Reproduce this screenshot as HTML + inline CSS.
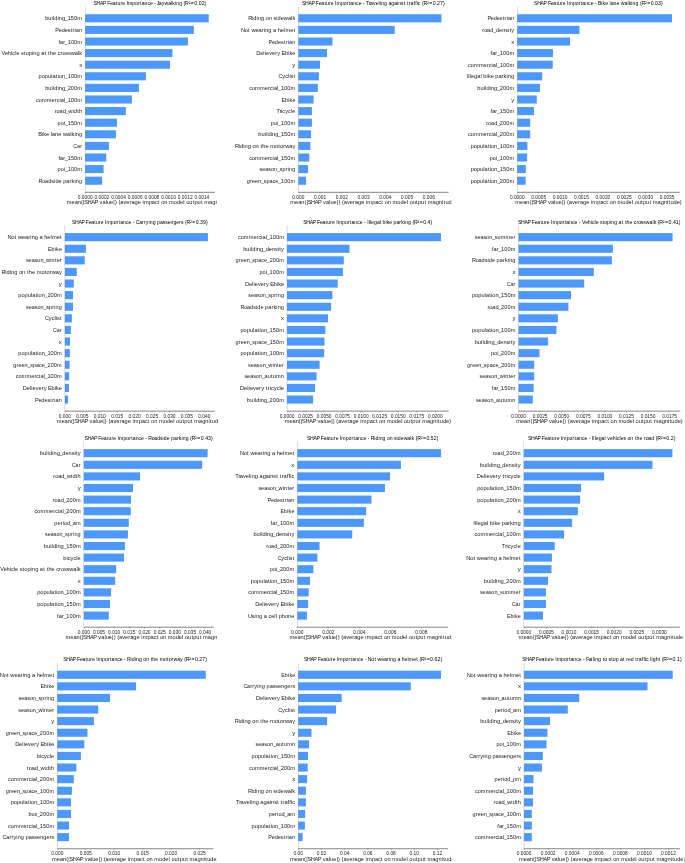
<!DOCTYPE html>
<html><head><meta charset="utf-8"><style>
html,body{margin:0;padding:0;background:#fff;overflow:hidden;}
svg{display:block;font-family:"Liberation Sans",sans-serif;}
text{-webkit-font-smoothing:antialiased;}
</style></head><body>
<svg width="685" height="863" viewBox="0 0 685 863" style="will-change:transform">

<clipPath id="c0"><rect x="0" y="0" width="217.0" height="863"/></clipPath>
<g clip-path="url(#c0)">
<rect x="85.20" y="14.24" width="123.50" height="8.12" fill="#4c98ff"/>
<text transform="translate(45.16 20.30) scale(1.0325 1)" x="0.01 3.08 6.20 7.55 8.84 11.97 13.26 16.33 19.08 21.83 24.91 27.99 31.13" font-size="5.500" fill="#1a1a1a">building_150m</text>
<rect x="85.20" y="25.84" width="108.70" height="8.12" fill="#4c98ff"/>
<text transform="translate(55.69 31.90) scale(1.0043 1)" x="-0.33 3.00 5.94 9.05 12.03 14.92 16.77 18.79 20.08 23.19" font-size="5.500" fill="#1a1a1a">Pedestrian</text>
<rect x="85.20" y="37.44" width="102.70" height="8.12" fill="#4c98ff"/>
<text transform="translate(58.31 43.50) scale(1.0240 1)" x="0.10 1.69 4.80 6.41 9.18 12.29 15.40 18.57" font-size="5.500" fill="#1a1a1a">far_100m</text>
<rect x="85.20" y="49.04" width="87.20" height="8.12" fill="#4c98ff"/>
<text transform="translate(1.70 55.10) scale(1.0313 1)" x="-0.18 3.28 5.93 9.06 10.30 13.07 14.32 17.34 18.77 21.59 23.26 26.28 29.41 30.70 33.78 36.85 38.34 41.54 43.27 44.99 46.71 49.74 52.76 54.26 57.04 58.91 61.70 64.23 66.87 70.79 73.87 75.18" font-size="5.500" fill="#1a1a1a">Vehicle stoping at the crosswalk</text>
<rect x="85.20" y="60.64" width="84.80" height="8.12" fill="#4c98ff"/>
<text transform="translate(79.14 66.70) scale(1.0760 1)" x="0.00" font-size="5.500" fill="#1a1a1a">x</text>
<rect x="85.20" y="72.24" width="60.70" height="8.12" fill="#4c98ff"/>
<text transform="translate(38.58 78.30) scale(1.0313 1)" x="0.01 3.03 6.05 9.13 12.26 13.50 16.70 18.48 19.71 22.73 25.48 28.24 31.32 34.41 37.55" font-size="5.500" fill="#1a1a1a">population_100m</text>
<rect x="85.20" y="83.84" width="53.70" height="8.12" fill="#4c98ff"/>
<text transform="translate(45.16 89.90) scale(1.0325 1)" x="0.01 3.08 6.20 7.55 8.84 11.97 13.26 16.33 19.08 21.83 24.91 27.99 31.13" font-size="5.500" fill="#1a1a1a">building_200m</text>
<rect x="85.20" y="95.44" width="46.70" height="8.12" fill="#4c98ff"/>
<text transform="translate(36.02 101.50) scale(1.0255 1)" x="-0.03 2.64 5.75 10.50 15.13 18.25 20.13 22.81 24.06 27.15 28.13 30.90 34.00 37.10 40.27" font-size="5.500" fill="#1a1a1a">commercial_100m</text>
<rect x="85.20" y="107.04" width="40.60" height="8.12" fill="#4c98ff"/>
<text transform="translate(54.58 113.10) scale(1.0230 1)" x="0.09 1.98 4.86 7.91 10.68 13.45 17.50 18.81 22.09 23.83" font-size="5.500" fill="#1a1a1a">road_width</text>
<rect x="85.20" y="118.64" width="31.80" height="8.12" fill="#4c98ff"/>
<text transform="translate(57.56 124.70) scale(1.0157 1)" x="0.03 3.10 6.21 7.21 10.00 13.13 16.27 19.47" font-size="5.500" fill="#1a1a1a">poi_150m</text>
<rect x="85.20" y="130.24" width="30.70" height="8.12" fill="#4c98ff"/>
<text transform="translate(38.44 136.30) scale(1.0274 1)" x="-0.16 3.40 4.73 7.48 10.34 11.94 13.19 16.22 19.26 22.30 23.84 27.78 30.87 32.19 35.04 36.34 39.42" font-size="5.500" fill="#1a1a1a">Bike lane walking</text>
<rect x="85.20" y="141.84" width="23.70" height="8.12" fill="#4c98ff"/>
<text transform="translate(73.49 147.90) scale(0.9716 1)" x="-0.19 3.64 6.89" font-size="5.500" fill="#1a1a1a">Car</text>
<rect x="85.20" y="153.44" width="21.10" height="8.12" fill="#4c98ff"/>
<text transform="translate(58.31 159.50) scale(1.0240 1)" x="0.10 1.69 4.80 6.41 9.18 12.29 15.40 18.57" font-size="5.500" fill="#1a1a1a">far_150m</text>
<rect x="85.20" y="165.04" width="18.40" height="8.12" fill="#4c98ff"/>
<text transform="translate(57.56 171.10) scale(1.0157 1)" x="0.03 3.10 6.21 7.21 10.00 13.13 16.27 19.47" font-size="5.500" fill="#1a1a1a">poi_100m</text>
<rect x="85.20" y="176.64" width="16.90" height="8.12" fill="#4c98ff"/>
<text transform="translate(38.80 182.70) scale(1.0116 1)" x="-0.27 3.42 6.22 9.30 12.32 15.05 16.39 19.48 22.55 24.14 27.22 30.37 32.36 35.24 36.57 39.71" font-size="5.500" fill="#1a1a1a">Roadside parking</text>
<line x1="85.20" y1="6.70" x2="85.20" y2="192.30" stroke="#333" stroke-width="0.35" opacity="0.6"/>
<line x1="85.20" y1="192.30" x2="214.88" y2="192.30" stroke="#666" stroke-width="0.8"/>
<line x1="85.20" y1="192.30" x2="85.20" y2="193.60" stroke="#333" stroke-width="0.35"/>
<text transform="translate(77.80 198.65) scale(1.0692 1)" x="-0.00 2.52 3.78 6.29 8.81 11.33" font-size="4.527" fill="#1a1a1a">0.0000</text>
<line x1="101.87" y1="192.30" x2="101.87" y2="193.60" stroke="#333" stroke-width="0.35"/>
<text transform="translate(94.47 198.65) scale(1.0692 1)" x="-0.00 2.52 3.78 6.29 8.81 11.33" font-size="4.527" fill="#1a1a1a">0.0002</text>
<line x1="118.54" y1="192.30" x2="118.54" y2="193.60" stroke="#333" stroke-width="0.35"/>
<text transform="translate(111.14 198.65) scale(1.0692 1)" x="-0.00 2.52 3.78 6.29 8.81 11.33" font-size="4.527" fill="#1a1a1a">0.0004</text>
<line x1="135.21" y1="192.30" x2="135.21" y2="193.60" stroke="#333" stroke-width="0.35"/>
<text transform="translate(127.81 198.65) scale(1.0692 1)" x="-0.00 2.52 3.78 6.29 8.81 11.33" font-size="4.527" fill="#1a1a1a">0.0006</text>
<line x1="151.88" y1="192.30" x2="151.88" y2="193.60" stroke="#333" stroke-width="0.35"/>
<text transform="translate(144.48 198.65) scale(1.0692 1)" x="-0.00 2.52 3.78 6.29 8.81 11.33" font-size="4.527" fill="#1a1a1a">0.0008</text>
<line x1="168.55" y1="192.30" x2="168.55" y2="193.60" stroke="#333" stroke-width="0.35"/>
<text transform="translate(161.15 198.65) scale(1.0692 1)" x="-0.00 2.52 3.78 6.29 8.81 11.33" font-size="4.527" fill="#1a1a1a">0.0010</text>
<line x1="185.22" y1="192.30" x2="185.22" y2="193.60" stroke="#333" stroke-width="0.35"/>
<text transform="translate(177.82 198.65) scale(1.0692 1)" x="-0.00 2.52 3.78 6.29 8.81 11.33" font-size="4.527" fill="#1a1a1a">0.0012</text>
<line x1="201.89" y1="192.30" x2="201.89" y2="193.60" stroke="#333" stroke-width="0.35"/>
<text transform="translate(194.49 198.65) scale(1.0692 1)" x="-0.00 2.52 3.78 6.29 8.81 11.33" font-size="4.527" fill="#1a1a1a">0.0014</text>
<text transform="translate(93.71 4.70) scale(1.0077 1)" x="-0.24 2.80 6.22 9.17 12.27 13.47 16.33 18.90 21.90 23.55 26.51 28.29 31.03 32.44 33.93 38.32 41.17 44.08 46.06 47.66 50.51 53.37 55.89 58.73 60.15 61.84 62.68 64.62 67.52 70.18 73.88 76.77 78.03 80.69 81.93 84.84 87.73 89.21 90.70 94.20 96.40 99.85 102.74 104.22 107.13 110.05" font-size="5.077" fill="#000">SHAP Feature Importance - Jaywalking (R²=0.02)</text>
<text transform="translate(66.78 204.45) scale(1.0354 1)" x="0.06 4.66 7.62 10.63 13.72 15.68 16.90 20.10 23.72 26.83 30.12 31.71 34.46 37.53 38.81 41.83 44.94 46.49 48.36 49.91 51.72 54.78 57.54 60.64 62.49 65.51 68.52 71.54 73.13 74.48 79.12 82.14 85.10 87.98 89.70 91.18 94.18 97.25 98.84 103.43 106.44 109.46 112.53 113.82 115.30 118.30 121.55 123.26 126.32 129.56 131.28 132.87 137.46 140.48 143.54 146.66 148.12 149.83 152.90 155.92 158.96" font-size="5.500" fill="#1a1a1a">mean(|SHAP value|) (average impact on model output magnitude)</text>
</g>
<clipPath id="c1"><rect x="228" y="0" width="223.5" height="863"/></clipPath>
<g clip-path="url(#c1)">
<rect x="298.40" y="14.24" width="143.10" height="8.12" fill="#4c98ff"/>
<text transform="translate(248.44 20.30) scale(1.0218 1)" x="-0.29 3.47 4.78 7.93 9.25 12.35 15.45 16.96 20.00 23.10 24.54 27.26 28.57 31.63 34.68 38.64 41.73 43.07" font-size="5.500" fill="#1a1a1a">Riding on sidewalk</text>
<rect x="298.40" y="25.84" width="96.30" height="8.12" fill="#4c98ff"/>
<text transform="translate(241.15 31.90) scale(1.0419 1)" x="-0.19 3.53 6.70 8.41 9.91 13.80 16.75 19.82 21.78 23.05 26.09 29.14 30.61 33.61 35.13 38.12 41.18 42.51 47.08 50.27" font-size="5.500" fill="#1a1a1a">Not wearing a helmet</text>
<rect x="298.40" y="37.44" width="34.10" height="8.12" fill="#4c98ff"/>
<text transform="translate(268.89 43.50) scale(1.0043 1)" x="-0.33 3.00 5.94 9.05 12.03 14.92 16.77 18.79 20.08 23.19" font-size="5.500" fill="#1a1a1a">Pedestrian</text>
<rect x="298.40" y="49.04" width="28.60" height="8.12" fill="#4c98ff"/>
<text transform="translate(256.36 55.10) scale(1.0190 1)" x="-0.10 3.76 6.87 8.23 9.50 12.62 15.43 18.56 20.56 23.40 24.66 28.07 31.23 32.57 35.35" font-size="5.500" fill="#1a1a1a">Delievery Ebike</text>
<rect x="298.40" y="60.64" width="21.60" height="8.12" fill="#4c98ff"/>
<text transform="translate(292.34 66.70) scale(1.0760 1)" x="0.00" font-size="5.500" fill="#1a1a1a">y</text>
<rect x="298.40" y="72.24" width="20.50" height="8.12" fill="#4c98ff"/>
<text transform="translate(278.76 78.30) scale(1.0216 1)" x="-0.28 3.49 6.28 9.07 10.43 11.62 14.47" font-size="5.500" fill="#1a1a1a">Cyclist</text>
<rect x="298.40" y="83.84" width="19.40" height="8.12" fill="#4c98ff"/>
<text transform="translate(249.22 89.90) scale(1.0255 1)" x="-0.03 2.64 5.75 10.50 15.13 18.25 20.13 22.81 24.06 27.15 28.13 30.90 34.00 37.10 40.27" font-size="5.500" fill="#1a1a1a">commercial_100m</text>
<rect x="298.40" y="95.44" width="15.20" height="8.12" fill="#4c98ff"/>
<text transform="translate(281.78 101.50) scale(0.9824 1)" x="-0.23 3.30 6.54 7.96 10.84" font-size="5.500" fill="#1a1a1a">Ebike</text>
<rect x="298.40" y="107.04" width="13.50" height="8.12" fill="#4c98ff"/>
<text transform="translate(276.61 113.10) scale(0.9972 1)" x="-0.15 3.18 4.47 5.78 8.65 11.51 14.35 15.67" font-size="5.500" fill="#1a1a1a">Tricycle</text>
<rect x="298.40" y="118.64" width="13.50" height="8.12" fill="#4c98ff"/>
<text transform="translate(270.76 124.70) scale(1.0157 1)" x="0.03 3.10 6.21 7.21 10.00 13.13 16.27 19.47" font-size="5.500" fill="#1a1a1a">poi_100m</text>
<rect x="298.40" y="130.24" width="12.60" height="8.12" fill="#4c98ff"/>
<text transform="translate(258.36 136.30) scale(1.0325 1)" x="0.01 3.08 6.20 7.55 8.84 11.97 13.26 16.33 19.08 21.83 24.91 27.99 31.13" font-size="5.500" fill="#1a1a1a">building_150m</text>
<rect x="298.40" y="141.84" width="12.00" height="8.12" fill="#4c98ff"/>
<text transform="translate(235.21 147.90) scale(1.0400 1)" x="-0.32 3.40 4.67 7.79 9.06 12.11 15.16 16.63 19.63 22.68 24.39 26.09 29.09 32.10 33.68 38.25 41.43 43.08 46.15 48.04 51.93 54.98" font-size="5.500" fill="#1a1a1a">Riding on the motorway</text>
<rect x="298.40" y="153.44" width="10.90" height="8.12" fill="#4c98ff"/>
<text transform="translate(249.22 159.50) scale(1.0255 1)" x="-0.03 2.64 5.75 10.50 15.13 18.25 20.13 22.81 24.06 27.15 28.13 30.90 34.00 37.10 40.27" font-size="5.500" fill="#1a1a1a">commercial_150m</text>
<rect x="298.40" y="165.04" width="9.60" height="8.12" fill="#4c98ff"/>
<text transform="translate(259.66 171.10) scale(0.9964 1)" x="-0.07 2.63 5.71 8.71 11.40 14.52 17.37 20.08 22.83 26.07 28.10 29.47 32.65" font-size="5.500" fill="#1a1a1a">season_spring</text>
<rect x="298.40" y="176.64" width="7.60" height="8.12" fill="#4c98ff"/>
<text transform="translate(246.78 182.70) scale(0.9980 1)" x="0.06 3.29 5.25 8.22 11.35 14.19 16.90 19.65 22.77 25.84 28.60 31.39 34.24 37.43 40.62 43.89" font-size="5.500" fill="#1a1a1a">green_space_100m</text>
<line x1="298.40" y1="6.70" x2="298.40" y2="192.30" stroke="#333" stroke-width="0.35" opacity="0.6"/>
<line x1="298.40" y1="192.30" x2="448.65" y2="192.30" stroke="#666" stroke-width="0.8"/>
<line x1="298.40" y1="192.30" x2="298.40" y2="193.60" stroke="#333" stroke-width="0.35"/>
<text transform="translate(292.34 198.65) scale(1.0692 1)" x="-0.00 2.52 3.78 6.29 8.81" font-size="4.527" fill="#1a1a1a">0.000</text>
<line x1="320.15" y1="192.30" x2="320.15" y2="193.60" stroke="#333" stroke-width="0.35"/>
<text transform="translate(314.09 198.65) scale(1.0692 1)" x="-0.00 2.52 3.78 6.29 8.81" font-size="4.527" fill="#1a1a1a">0.001</text>
<line x1="341.90" y1="192.30" x2="341.90" y2="193.60" stroke="#333" stroke-width="0.35"/>
<text transform="translate(335.84 198.65) scale(1.0692 1)" x="-0.00 2.52 3.78 6.29 8.81" font-size="4.527" fill="#1a1a1a">0.002</text>
<line x1="363.65" y1="192.30" x2="363.65" y2="193.60" stroke="#333" stroke-width="0.35"/>
<text transform="translate(357.59 198.65) scale(1.0692 1)" x="-0.00 2.52 3.78 6.29 8.81" font-size="4.527" fill="#1a1a1a">0.003</text>
<line x1="385.40" y1="192.30" x2="385.40" y2="193.60" stroke="#333" stroke-width="0.35"/>
<text transform="translate(379.34 198.65) scale(1.0692 1)" x="-0.00 2.52 3.78 6.29 8.81" font-size="4.527" fill="#1a1a1a">0.004</text>
<line x1="407.15" y1="192.30" x2="407.15" y2="193.60" stroke="#333" stroke-width="0.35"/>
<text transform="translate(401.09 198.65) scale(1.0692 1)" x="-0.00 2.52 3.78 6.29 8.81" font-size="4.527" fill="#1a1a1a">0.005</text>
<line x1="428.90" y1="192.30" x2="428.90" y2="193.60" stroke="#333" stroke-width="0.35"/>
<text transform="translate(422.84 198.65) scale(1.0692 1)" x="-0.00 2.52 3.78 6.29 8.81" font-size="4.527" fill="#1a1a1a">0.006</text>
<text transform="translate(302.34 4.70) scale(1.0237 1)" x="-0.26 2.72 6.10 9.00 12.07 13.23 16.06 18.58 21.55 23.16 26.08 27.82 30.54 31.92 33.37 37.70 40.51 43.38 45.33 46.89 49.70 52.51 54.99 57.80 59.19 60.86 62.11 65.12 66.20 69.06 71.64 74.50 75.75 76.96 79.82 82.67 84.06 86.87 89.69 92.54 93.75 96.50 99.12 100.72 102.32 103.99 105.73 108.61 110.20 111.69 112.85 115.37 116.83 118.29 121.74 123.90 127.29 130.15 131.60 134.46 137.34" font-size="5.077" fill="#000">SHAP Feature Importance - Traveling against traffic (R²=0.27)</text>
<text transform="translate(290.27 204.45) scale(1.0354 1)" x="0.06 4.66 7.62 10.63 13.72 15.68 16.90 20.10 23.72 26.83 30.12 31.71 34.46 37.53 38.81 41.83 44.94 46.49 48.36 49.91 51.72 54.78 57.54 60.64 62.49 65.51 68.52 71.54 73.13 74.48 79.12 82.14 85.10 87.98 89.70 91.18 94.18 97.25 98.84 103.43 106.44 109.46 112.53 113.82 115.30 118.30 121.55 123.26 126.32 129.56 131.28 132.87 137.46 140.48 143.54 146.66 148.12 149.83 152.90 155.92 158.96" font-size="5.500" fill="#1a1a1a">mean(|SHAP value|) (average impact on model output magnitude)</text>
</g>
<clipPath id="c2"><rect x="457" y="0" width="228" height="863"/></clipPath>
<g clip-path="url(#c2)">
<rect x="517.30" y="14.24" width="154.70" height="8.12" fill="#4c98ff"/>
<text transform="translate(487.79 20.30) scale(1.0043 1)" x="-0.33 3.00 5.94 9.05 12.03 14.92 16.77 18.79 20.08 23.19" font-size="5.500" fill="#1a1a1a">Pedestrian</text>
<rect x="517.30" y="25.84" width="62.20" height="8.12" fill="#4c98ff"/>
<text transform="translate(482.12 31.90) scale(1.0185 1)" x="0.09 1.99 4.89 7.95 10.74 13.52 16.59 19.66 22.65 25.37 26.86 28.67" font-size="5.500" fill="#1a1a1a">road_density</text>
<rect x="517.30" y="37.44" width="52.70" height="8.12" fill="#4c98ff"/>
<text transform="translate(511.24 43.50) scale(1.0760 1)" x="0.00" font-size="5.500" fill="#1a1a1a">x</text>
<rect x="517.30" y="49.04" width="35.60" height="8.12" fill="#4c98ff"/>
<text transform="translate(490.41 55.10) scale(1.0240 1)" x="0.10 1.69 4.80 6.41 9.18 12.29 15.40 18.57" font-size="5.500" fill="#1a1a1a">far_100m</text>
<rect x="517.30" y="60.64" width="35.40" height="8.12" fill="#4c98ff"/>
<text transform="translate(468.12 66.70) scale(1.0255 1)" x="-0.03 2.64 5.75 10.50 15.13 18.25 20.13 22.81 24.06 27.15 28.13 30.90 34.00 37.10 40.27" font-size="5.500" fill="#1a1a1a">commercial_100m</text>
<rect x="517.30" y="72.24" width="24.90" height="8.12" fill="#4c98ff"/>
<text transform="translate(466.79 78.30) scale(1.0408 1)" x="-0.06 1.47 2.81 4.03 7.04 10.03 13.09 14.37 15.89 19.00 20.30 23.01 25.85 27.37 30.37 33.44 35.36 38.18 39.45 42.50" font-size="5.500" fill="#1a1a1a">Illegal bike parking</text>
<rect x="517.30" y="83.84" width="22.60" height="8.12" fill="#4c98ff"/>
<text transform="translate(477.26 89.90) scale(1.0325 1)" x="0.01 3.08 6.20 7.55 8.84 11.97 13.26 16.33 19.08 21.83 24.91 27.99 31.13" font-size="5.500" fill="#1a1a1a">building_200m</text>
<rect x="517.30" y="95.44" width="19.50" height="8.12" fill="#4c98ff"/>
<text transform="translate(511.24 101.50) scale(1.0760 1)" x="0.00" font-size="5.500" fill="#1a1a1a">y</text>
<rect x="517.30" y="107.04" width="16.70" height="8.12" fill="#4c98ff"/>
<text transform="translate(490.41 113.10) scale(1.0240 1)" x="0.10 1.69 4.80 6.41 9.18 12.29 15.40 18.57" font-size="5.500" fill="#1a1a1a">far_150m</text>
<rect x="517.30" y="118.64" width="12.90" height="8.12" fill="#4c98ff"/>
<text transform="translate(486.04 124.70) scale(1.0119 1)" x="0.10 2.01 4.93 8.01 10.82 13.62 16.77 19.91 23.13" font-size="5.500" fill="#1a1a1a">road_200m</text>
<rect x="517.30" y="130.24" width="12.90" height="8.12" fill="#4c98ff"/>
<text transform="translate(468.12 136.30) scale(1.0255 1)" x="-0.03 2.64 5.75 10.50 15.13 18.25 20.13 22.81 24.06 27.15 28.13 30.90 34.00 37.10 40.27" font-size="5.500" fill="#1a1a1a">commercial_200m</text>
<rect x="517.30" y="141.84" width="10.10" height="8.12" fill="#4c98ff"/>
<text transform="translate(470.68 147.90) scale(1.0313 1)" x="0.01 3.03 6.05 9.13 12.26 13.50 16.70 18.48 19.71 22.73 25.48 28.24 31.32 34.41 37.55" font-size="5.500" fill="#1a1a1a">population_100m</text>
<rect x="517.30" y="153.44" width="9.80" height="8.12" fill="#4c98ff"/>
<text transform="translate(489.66 159.50) scale(1.0157 1)" x="0.03 3.10 6.21 7.21 10.00 13.13 16.27 19.47" font-size="5.500" fill="#1a1a1a">poi_100m</text>
<rect x="517.30" y="165.04" width="8.50" height="8.12" fill="#4c98ff"/>
<text transform="translate(470.68 171.10) scale(1.0313 1)" x="0.01 3.03 6.05 9.13 12.26 13.50 16.70 18.48 19.71 22.73 25.48 28.24 31.32 34.41 37.55" font-size="5.500" fill="#1a1a1a">population_150m</text>
<rect x="517.30" y="176.64" width="8.30" height="8.12" fill="#4c98ff"/>
<text transform="translate(470.68 182.70) scale(1.0313 1)" x="0.01 3.03 6.05 9.13 12.26 13.50 16.70 18.48 19.71 22.73 25.48 28.24 31.32 34.41 37.55" font-size="5.500" fill="#1a1a1a">population_200m</text>
<line x1="517.30" y1="6.70" x2="517.30" y2="192.30" stroke="#333" stroke-width="0.35" opacity="0.6"/>
<line x1="517.30" y1="192.30" x2="679.74" y2="192.30" stroke="#666" stroke-width="0.8"/>
<line x1="517.30" y1="192.30" x2="517.30" y2="193.60" stroke="#333" stroke-width="0.35"/>
<text transform="translate(509.90 198.65) scale(1.0692 1)" x="-0.00 2.52 3.78 6.29 8.81 11.33" font-size="4.527" fill="#1a1a1a">0.0000</text>
<line x1="538.70" y1="192.30" x2="538.70" y2="193.60" stroke="#333" stroke-width="0.35"/>
<text transform="translate(531.30 198.65) scale(1.0692 1)" x="-0.00 2.52 3.78 6.29 8.81 11.33" font-size="4.527" fill="#1a1a1a">0.0005</text>
<line x1="560.10" y1="192.30" x2="560.10" y2="193.60" stroke="#333" stroke-width="0.35"/>
<text transform="translate(552.70 198.65) scale(1.0692 1)" x="-0.00 2.52 3.78 6.29 8.81 11.33" font-size="4.527" fill="#1a1a1a">0.0010</text>
<line x1="581.50" y1="192.30" x2="581.50" y2="193.60" stroke="#333" stroke-width="0.35"/>
<text transform="translate(574.10 198.65) scale(1.0692 1)" x="-0.00 2.52 3.78 6.29 8.81 11.33" font-size="4.527" fill="#1a1a1a">0.0015</text>
<line x1="602.90" y1="192.30" x2="602.90" y2="193.60" stroke="#333" stroke-width="0.35"/>
<text transform="translate(595.50 198.65) scale(1.0692 1)" x="-0.00 2.52 3.78 6.29 8.81 11.33" font-size="4.527" fill="#1a1a1a">0.0020</text>
<line x1="624.30" y1="192.30" x2="624.30" y2="193.60" stroke="#333" stroke-width="0.35"/>
<text transform="translate(616.90 198.65) scale(1.0692 1)" x="-0.00 2.52 3.78 6.29 8.81 11.33" font-size="4.527" fill="#1a1a1a">0.0025</text>
<line x1="645.70" y1="192.30" x2="645.70" y2="193.60" stroke="#333" stroke-width="0.35"/>
<text transform="translate(638.30 198.65) scale(1.0692 1)" x="-0.00 2.52 3.78 6.29 8.81 11.33" font-size="4.527" fill="#1a1a1a">0.0030</text>
<line x1="667.10" y1="192.30" x2="667.10" y2="193.60" stroke="#333" stroke-width="0.35"/>
<text transform="translate(659.70 198.65) scale(1.0692 1)" x="-0.00 2.52 3.78 6.29 8.81 11.33" font-size="4.527" fill="#1a1a1a">0.0035</text>
<text transform="translate(534.35 4.70) scale(1.0171 1)" x="-0.25 2.75 6.15 9.07 12.15 13.33 16.17 18.71 21.70 23.32 26.25 28.02 30.74 32.13 33.60 37.95 40.78 43.67 45.63 47.21 50.04 52.86 55.36 58.19 59.59 61.27 62.56 65.87 67.11 69.68 72.34 73.84 75.01 77.84 80.67 83.50 84.94 88.61 91.48 92.72 95.37 96.59 99.47 102.34 103.80 105.28 108.75 110.92 114.34 117.21 118.67 121.56 124.45" font-size="5.077" fill="#000">SHAP Feature Importance - Bike lane walking (R²=0.03)</text>
<text transform="translate(515.26 204.45) scale(1.0354 1)" x="0.06 4.66 7.62 10.63 13.72 15.68 16.90 20.10 23.72 26.83 30.12 31.71 34.46 37.53 38.81 41.83 44.94 46.49 48.36 49.91 51.72 54.78 57.54 60.64 62.49 65.51 68.52 71.54 73.13 74.48 79.12 82.14 85.10 87.98 89.70 91.18 94.18 97.25 98.84 103.43 106.44 109.46 112.53 113.82 115.30 118.30 121.55 123.26 126.32 129.56 131.28 132.87 137.46 140.48 143.54 146.66 148.12 149.83 152.90 155.92 158.96" font-size="5.500" fill="#1a1a1a">mean(|SHAP value|) (average impact on model output magnitude)</text>
</g>
<clipPath id="c3"><rect x="0" y="0" width="217.9" height="863"/></clipPath>
<g clip-path="url(#c3)">
<rect x="64.90" y="233.09" width="143.00" height="8.12" fill="#4c98ff"/>
<text transform="translate(7.65 239.15) scale(1.0419 1)" x="-0.19 3.53 6.70 8.41 9.91 13.80 16.75 19.82 21.78 23.05 26.09 29.14 30.61 33.61 35.13 38.12 41.18 42.51 47.08 50.27" font-size="5.500" fill="#1a1a1a">Not wearing a helmet</text>
<rect x="64.90" y="244.69" width="21.00" height="8.12" fill="#4c98ff"/>
<text transform="translate(48.28 250.75) scale(0.9824 1)" x="-0.23 3.30 6.54 7.96 10.84" font-size="5.500" fill="#1a1a1a">Ebike</text>
<rect x="64.90" y="256.29" width="19.80" height="8.12" fill="#4c98ff"/>
<text transform="translate(25.98 262.35) scale(1.0099 1)" x="-0.09 2.57 5.61 8.57 11.22 14.31 17.11 19.92 24.01 25.34 28.65 30.38 33.53" font-size="5.500" fill="#1a1a1a">season_winter</text>
<rect x="64.90" y="267.89" width="11.90" height="8.12" fill="#4c98ff"/>
<text transform="translate(1.71 273.95) scale(1.0400 1)" x="-0.32 3.40 4.67 7.79 9.06 12.11 15.16 16.63 19.63 22.68 24.39 26.09 29.09 32.10 33.68 38.25 41.43 43.08 46.15 48.04 51.93 54.98" font-size="5.500" fill="#1a1a1a">Riding on the motorway</text>
<rect x="64.90" y="279.49" width="8.90" height="8.12" fill="#4c98ff"/>
<text transform="translate(58.84 285.55) scale(1.0760 1)" x="0.00" font-size="5.500" fill="#1a1a1a">y</text>
<rect x="64.90" y="291.09" width="8.10" height="8.12" fill="#4c98ff"/>
<text transform="translate(18.28 297.15) scale(1.0313 1)" x="0.01 3.03 6.05 9.13 12.26 13.50 16.70 18.48 19.71 22.73 25.48 28.24 31.32 34.41 37.55" font-size="5.500" fill="#1a1a1a">population_200m</text>
<rect x="64.90" y="302.69" width="8.10" height="8.12" fill="#4c98ff"/>
<text transform="translate(26.16 308.75) scale(0.9964 1)" x="-0.07 2.63 5.71 8.71 11.40 14.52 17.37 20.08 22.83 26.07 28.10 29.47 32.65" font-size="5.500" fill="#1a1a1a">season_spring</text>
<rect x="64.90" y="314.29" width="7.00" height="8.12" fill="#4c98ff"/>
<text transform="translate(45.26 320.35) scale(1.0216 1)" x="-0.28 3.49 6.28 9.07 10.43 11.62 14.47" font-size="5.500" fill="#1a1a1a">Cyclist</text>
<rect x="64.90" y="325.89" width="5.90" height="8.12" fill="#4c98ff"/>
<text transform="translate(53.19 331.95) scale(0.9716 1)" x="-0.19 3.64 6.89" font-size="5.500" fill="#1a1a1a">Car</text>
<rect x="64.90" y="337.49" width="5.10" height="8.12" fill="#4c98ff"/>
<text transform="translate(58.84 343.55) scale(1.0760 1)" x="0.00" font-size="5.500" fill="#1a1a1a">x</text>
<rect x="64.90" y="349.09" width="5.00" height="8.12" fill="#4c98ff"/>
<text transform="translate(18.28 355.15) scale(1.0313 1)" x="0.01 3.03 6.05 9.13 12.26 13.50 16.70 18.48 19.71 22.73 25.48 28.24 31.32 34.41 37.55" font-size="5.500" fill="#1a1a1a">population_100m</text>
<rect x="64.90" y="360.69" width="4.70" height="8.12" fill="#4c98ff"/>
<text transform="translate(13.28 366.75) scale(0.9980 1)" x="0.06 3.29 5.25 8.22 11.35 14.19 16.90 19.65 22.77 25.84 28.60 31.39 34.24 37.43 40.62 43.89" font-size="5.500" fill="#1a1a1a">green_space_200m</text>
<rect x="64.90" y="372.29" width="4.30" height="8.12" fill="#4c98ff"/>
<text transform="translate(15.72 378.35) scale(1.0255 1)" x="-0.03 2.64 5.75 10.50 15.13 18.25 20.13 22.81 24.06 27.15 28.13 30.90 34.00 37.10 40.27" font-size="5.500" fill="#1a1a1a">commercial_100m</text>
<rect x="64.90" y="383.89" width="4.10" height="8.12" fill="#4c98ff"/>
<text transform="translate(22.86 389.95) scale(1.0190 1)" x="-0.10 3.76 6.87 8.23 9.50 12.62 15.43 18.56 20.56 23.40 24.66 28.07 31.23 32.57 35.35" font-size="5.500" fill="#1a1a1a">Delievery Ebike</text>
<rect x="64.90" y="395.49" width="3.10" height="8.12" fill="#4c98ff"/>
<text transform="translate(35.39 401.55) scale(1.0043 1)" x="-0.33 3.00 5.94 9.05 12.03 14.92 16.77 18.79 20.08 23.19" font-size="5.500" fill="#1a1a1a">Pedestrian</text>
<line x1="64.90" y1="225.55" x2="64.90" y2="411.15" stroke="#333" stroke-width="0.35" opacity="0.6"/>
<line x1="64.90" y1="411.15" x2="215.05" y2="411.15" stroke="#666" stroke-width="0.8"/>
<line x1="64.90" y1="411.15" x2="64.90" y2="412.45" stroke="#333" stroke-width="0.35"/>
<text transform="translate(58.84 417.50) scale(1.0692 1)" x="-0.00 2.52 3.78 6.29 8.81" font-size="4.527" fill="#1a1a1a">0.000</text>
<line x1="82.33" y1="411.15" x2="82.33" y2="412.45" stroke="#333" stroke-width="0.35"/>
<text transform="translate(76.27 417.50) scale(1.0692 1)" x="-0.00 2.52 3.78 6.29 8.81" font-size="4.527" fill="#1a1a1a">0.005</text>
<line x1="99.76" y1="411.15" x2="99.76" y2="412.45" stroke="#333" stroke-width="0.35"/>
<text transform="translate(93.70 417.50) scale(1.0692 1)" x="-0.00 2.52 3.78 6.29 8.81" font-size="4.527" fill="#1a1a1a">0.010</text>
<line x1="117.19" y1="411.15" x2="117.19" y2="412.45" stroke="#333" stroke-width="0.35"/>
<text transform="translate(111.13 417.50) scale(1.0692 1)" x="-0.00 2.52 3.78 6.29 8.81" font-size="4.527" fill="#1a1a1a">0.015</text>
<line x1="134.62" y1="411.15" x2="134.62" y2="412.45" stroke="#333" stroke-width="0.35"/>
<text transform="translate(128.56 417.50) scale(1.0692 1)" x="-0.00 2.52 3.78 6.29 8.81" font-size="4.527" fill="#1a1a1a">0.020</text>
<line x1="152.05" y1="411.15" x2="152.05" y2="412.45" stroke="#333" stroke-width="0.35"/>
<text transform="translate(145.99 417.50) scale(1.0692 1)" x="-0.00 2.52 3.78 6.29 8.81" font-size="4.527" fill="#1a1a1a">0.025</text>
<line x1="169.48" y1="411.15" x2="169.48" y2="412.45" stroke="#333" stroke-width="0.35"/>
<text transform="translate(163.42 417.50) scale(1.0692 1)" x="-0.00 2.52 3.78 6.29 8.81" font-size="4.527" fill="#1a1a1a">0.030</text>
<line x1="186.91" y1="411.15" x2="186.91" y2="412.45" stroke="#333" stroke-width="0.35"/>
<text transform="translate(180.85 417.50) scale(1.0692 1)" x="-0.00 2.52 3.78 6.29 8.81" font-size="4.527" fill="#1a1a1a">0.035</text>
<line x1="204.34" y1="411.15" x2="204.34" y2="412.45" stroke="#333" stroke-width="0.35"/>
<text transform="translate(198.28 417.50) scale(1.0692 1)" x="-0.00 2.52 3.78 6.29 8.81" font-size="4.527" fill="#1a1a1a">0.040</text>
<text transform="translate(72.21 223.55) scale(1.0130 1)" x="-0.25 2.77 6.18 9.12 12.20 13.39 16.24 18.79 21.79 23.42 26.36 28.13 30.87 32.26 33.74 38.11 40.95 43.85 45.82 47.40 50.24 53.08 55.59 58.42 59.83 61.52 62.70 66.11 69.01 70.88 72.66 75.35 76.58 79.47 82.35 83.81 86.65 89.38 91.75 94.20 97.04 99.93 102.78 105.68 107.38 109.86 111.33 112.82 116.30 118.48 121.91 124.79 126.26 129.16 132.06" font-size="5.077" fill="#000">SHAP Feature Importance - Carrying passengers (R²=0.39)</text>
<text transform="translate(56.72 423.30) scale(1.0354 1)" x="0.06 4.66 7.62 10.63 13.72 15.68 16.90 20.10 23.72 26.83 30.12 31.71 34.46 37.53 38.81 41.83 44.94 46.49 48.36 49.91 51.72 54.78 57.54 60.64 62.49 65.51 68.52 71.54 73.13 74.48 79.12 82.14 85.10 87.98 89.70 91.18 94.18 97.25 98.84 103.43 106.44 109.46 112.53 113.82 115.30 118.30 121.55 123.26 126.32 129.56 131.28 132.87 137.46 140.48 143.54 146.66 148.12 149.83 152.90 155.92 158.96" font-size="5.500" fill="#1a1a1a">mean(|SHAP value|) (average impact on model output magnitude)</text>
</g>
<clipPath id="c4"><rect x="228" y="0" width="224" height="863"/></clipPath>
<g clip-path="url(#c4)">
<rect x="287.10" y="233.09" width="153.90" height="8.12" fill="#4c98ff"/>
<text transform="translate(237.92 239.15) scale(1.0255 1)" x="-0.03 2.64 5.75 10.50 15.13 18.25 20.13 22.81 24.06 27.15 28.13 30.90 34.00 37.10 40.27" font-size="5.500" fill="#1a1a1a">commercial_100m</text>
<rect x="287.10" y="244.69" width="62.40" height="8.12" fill="#4c98ff"/>
<text transform="translate(243.14 250.75) scale(1.0358 1)" x="0.00 3.06 6.18 7.52 8.81 11.93 13.21 16.27 19.01 21.75 24.77 27.78 30.72 33.41 34.88 36.64" font-size="5.500" fill="#1a1a1a">building_density</text>
<rect x="287.10" y="256.29" width="56.70" height="8.12" fill="#4c98ff"/>
<text transform="translate(235.48 262.35) scale(0.9980 1)" x="0.06 3.29 5.25 8.22 11.35 14.19 16.90 19.65 22.77 25.84 28.60 31.39 34.24 37.43 40.62 43.89" font-size="5.500" fill="#1a1a1a">green_space_200m</text>
<rect x="287.10" y="267.89" width="55.80" height="8.12" fill="#4c98ff"/>
<text transform="translate(259.46 273.95) scale(1.0157 1)" x="0.03 3.10 6.21 7.21 10.00 13.13 16.27 19.47" font-size="5.500" fill="#1a1a1a">poi_100m</text>
<rect x="287.10" y="279.49" width="50.60" height="8.12" fill="#4c98ff"/>
<text transform="translate(245.06 285.55) scale(1.0190 1)" x="-0.10 3.76 6.87 8.23 9.50 12.62 15.43 18.56 20.56 23.40 24.66 28.07 31.23 32.57 35.35" font-size="5.500" fill="#1a1a1a">Delievery Ebike</text>
<rect x="287.10" y="291.09" width="45.30" height="8.12" fill="#4c98ff"/>
<text transform="translate(248.36 297.15) scale(0.9964 1)" x="-0.07 2.63 5.71 8.71 11.40 14.52 17.37 20.08 22.83 26.07 28.10 29.47 32.65" font-size="5.500" fill="#1a1a1a">season_spring</text>
<rect x="287.10" y="302.69" width="44.00" height="8.12" fill="#4c98ff"/>
<text transform="translate(240.70 308.75) scale(1.0116 1)" x="-0.27 3.42 6.22 9.30 12.32 15.05 16.39 19.48 22.55 24.14 27.22 30.37 32.36 35.24 36.57 39.71" font-size="5.500" fill="#1a1a1a">Roadside parking</text>
<rect x="287.10" y="314.29" width="40.90" height="8.12" fill="#4c98ff"/>
<text transform="translate(281.04 320.35) scale(1.0760 1)" x="0.00" font-size="5.500" fill="#1a1a1a">x</text>
<rect x="287.10" y="325.89" width="38.30" height="8.12" fill="#4c98ff"/>
<text transform="translate(240.48 331.95) scale(1.0313 1)" x="0.01 3.03 6.05 9.13 12.26 13.50 16.70 18.48 19.71 22.73 25.48 28.24 31.32 34.41 37.55" font-size="5.500" fill="#1a1a1a">population_150m</text>
<rect x="287.10" y="337.49" width="37.40" height="8.12" fill="#4c98ff"/>
<text transform="translate(235.48 343.55) scale(0.9980 1)" x="0.06 3.29 5.25 8.22 11.35 14.19 16.90 19.65 22.77 25.84 28.60 31.39 34.24 37.43 40.62 43.89" font-size="5.500" fill="#1a1a1a">green_space_150m</text>
<rect x="287.10" y="349.09" width="37.10" height="8.12" fill="#4c98ff"/>
<text transform="translate(240.48 355.15) scale(1.0313 1)" x="0.01 3.03 6.05 9.13 12.26 13.50 16.70 18.48 19.71 22.73 25.48 28.24 31.32 34.41 37.55" font-size="5.500" fill="#1a1a1a">population_100m</text>
<rect x="287.10" y="360.69" width="32.50" height="8.12" fill="#4c98ff"/>
<text transform="translate(248.18 366.75) scale(1.0099 1)" x="-0.09 2.57 5.61 8.57 11.22 14.31 17.11 19.92 24.01 25.34 28.65 30.38 33.53" font-size="5.500" fill="#1a1a1a">season_winter</text>
<rect x="287.10" y="372.29" width="29.50" height="8.12" fill="#4c98ff"/>
<text transform="translate(244.52 378.35) scale(1.0087 1)" x="-0.08 2.58 5.62 8.59 11.24 14.33 17.14 19.89 22.98 26.29 28.07 31.29 36.04" font-size="5.500" fill="#1a1a1a">season_autumn</text>
<rect x="287.10" y="383.89" width="27.90" height="8.12" fill="#4c98ff"/>
<text transform="translate(240.25 389.95) scale(1.0525 1)" x="-0.16 3.59 6.63 7.95 9.15 12.17 14.89 17.94 19.86 22.63 24.32 26.07 28.02 29.22 31.93 34.64 37.37 38.57" font-size="5.500" fill="#1a1a1a">Delievery tricycle</text>
<rect x="287.10" y="395.49" width="26.00" height="8.12" fill="#4c98ff"/>
<text transform="translate(247.06 401.55) scale(1.0325 1)" x="0.01 3.08 6.20 7.55 8.84 11.97 13.26 16.33 19.08 21.83 24.91 27.99 31.13" font-size="5.500" fill="#1a1a1a">building_200m</text>
<line x1="287.10" y1="225.55" x2="287.10" y2="411.15" stroke="#333" stroke-width="0.35" opacity="0.6"/>
<line x1="287.10" y1="411.15" x2="448.69" y2="411.15" stroke="#666" stroke-width="0.8"/>
<line x1="287.10" y1="411.15" x2="287.10" y2="412.45" stroke="#333" stroke-width="0.35"/>
<text transform="translate(279.70 417.50) scale(1.0692 1)" x="-0.00 2.52 3.78 6.29 8.81 11.33" font-size="4.527" fill="#1a1a1a">0.0000</text>
<line x1="305.62" y1="411.15" x2="305.62" y2="412.45" stroke="#333" stroke-width="0.35"/>
<text transform="translate(298.22 417.50) scale(1.0692 1)" x="-0.00 2.52 3.78 6.29 8.81 11.33" font-size="4.527" fill="#1a1a1a">0.0025</text>
<line x1="324.15" y1="411.15" x2="324.15" y2="412.45" stroke="#333" stroke-width="0.35"/>
<text transform="translate(316.75 417.50) scale(1.0692 1)" x="-0.00 2.52 3.78 6.29 8.81 11.33" font-size="4.527" fill="#1a1a1a">0.0050</text>
<line x1="342.68" y1="411.15" x2="342.68" y2="412.45" stroke="#333" stroke-width="0.35"/>
<text transform="translate(335.27 417.50) scale(1.0692 1)" x="-0.00 2.52 3.78 6.29 8.81 11.33" font-size="4.527" fill="#1a1a1a">0.0075</text>
<line x1="361.20" y1="411.15" x2="361.20" y2="412.45" stroke="#333" stroke-width="0.35"/>
<text transform="translate(353.80 417.50) scale(1.0692 1)" x="-0.00 2.52 3.78 6.29 8.81 11.33" font-size="4.527" fill="#1a1a1a">0.0100</text>
<line x1="379.73" y1="411.15" x2="379.73" y2="412.45" stroke="#333" stroke-width="0.35"/>
<text transform="translate(372.32 417.50) scale(1.0692 1)" x="-0.00 2.52 3.78 6.29 8.81 11.33" font-size="4.527" fill="#1a1a1a">0.0125</text>
<line x1="398.25" y1="411.15" x2="398.25" y2="412.45" stroke="#333" stroke-width="0.35"/>
<text transform="translate(390.85 417.50) scale(1.0692 1)" x="-0.00 2.52 3.78 6.29 8.81 11.33" font-size="4.527" fill="#1a1a1a">0.0150</text>
<line x1="416.78" y1="411.15" x2="416.78" y2="412.45" stroke="#333" stroke-width="0.35"/>
<text transform="translate(409.37 417.50) scale(1.0692 1)" x="-0.00 2.52 3.78 6.29 8.81 11.33" font-size="4.527" fill="#1a1a1a">0.0175</text>
<line x1="435.30" y1="411.15" x2="435.30" y2="412.45" stroke="#333" stroke-width="0.35"/>
<text transform="translate(427.90 417.50) scale(1.0692 1)" x="-0.00 2.52 3.78 6.29 8.81 11.33" font-size="4.527" fill="#1a1a1a">0.0200</text>
<text transform="translate(303.47 223.55) scale(1.0212 1)" x="-0.26 2.73 6.12 9.03 12.10 13.27 16.10 18.63 21.60 23.22 26.14 27.90 30.61 32.00 33.46 37.79 40.61 43.49 45.44 47.01 49.82 52.64 55.13 57.95 59.34 61.01 62.40 63.83 65.09 66.26 69.09 71.90 74.76 75.97 77.42 80.33 81.56 84.11 86.77 88.21 91.03 93.91 95.73 98.37 99.58 102.45 105.31 106.77 108.23 111.69 113.86 117.26 120.12 121.57 124.46" font-size="5.077" fill="#000">SHAP Feature Importance - Illegal bike parking (R²=0.4)</text>
<text transform="translate(284.64 423.30) scale(1.0354 1)" x="0.06 4.66 7.62 10.63 13.72 15.68 16.90 20.10 23.72 26.83 30.12 31.71 34.46 37.53 38.81 41.83 44.94 46.49 48.36 49.91 51.72 54.78 57.54 60.64 62.49 65.51 68.52 71.54 73.13 74.48 79.12 82.14 85.10 87.98 89.70 91.18 94.18 97.25 98.84 103.43 106.44 109.46 112.53 113.82 115.30 118.30 121.55 123.26 126.32 129.56 131.28 132.87 137.46 140.48 143.54 146.66 148.12 149.83 152.90 155.92 158.96" font-size="5.500" fill="#1a1a1a">mean(|SHAP value|) (average impact on model output magnitude)</text>
</g>
<clipPath id="c5"><rect x="457" y="0" width="228" height="863"/></clipPath>
<g clip-path="url(#c5)">
<rect x="518.60" y="233.09" width="154.00" height="8.12" fill="#4c98ff"/>
<text transform="translate(474.77 239.15) scale(1.0017 1)" x="-0.07 2.61 5.67 8.66 11.33 14.44 17.27 19.97 22.70 25.95 30.81 35.54 38.71" font-size="5.500" fill="#1a1a1a">season_summer</text>
<rect x="518.60" y="244.69" width="94.30" height="8.12" fill="#4c98ff"/>
<text transform="translate(491.71 250.75) scale(1.0240 1)" x="0.10 1.69 4.80 6.41 9.18 12.29 15.40 18.57" font-size="5.500" fill="#1a1a1a">far_100m</text>
<rect x="518.60" y="256.29" width="93.30" height="8.12" fill="#4c98ff"/>
<text transform="translate(472.20 262.35) scale(1.0116 1)" x="-0.27 3.42 6.22 9.30 12.32 15.05 16.39 19.48 22.55 24.14 27.22 30.37 32.36 35.24 36.57 39.71" font-size="5.500" fill="#1a1a1a">Roadside parking</text>
<rect x="518.60" y="267.89" width="75.20" height="8.12" fill="#4c98ff"/>
<text transform="translate(512.54 273.95) scale(1.0760 1)" x="0.00" font-size="5.500" fill="#1a1a1a">x</text>
<rect x="518.60" y="279.49" width="65.60" height="8.12" fill="#4c98ff"/>
<text transform="translate(506.89 285.55) scale(0.9716 1)" x="-0.19 3.64 6.89" font-size="5.500" fill="#1a1a1a">Car</text>
<rect x="518.60" y="291.09" width="52.40" height="8.12" fill="#4c98ff"/>
<text transform="translate(471.98 297.15) scale(1.0313 1)" x="0.01 3.03 6.05 9.13 12.26 13.50 16.70 18.48 19.71 22.73 25.48 28.24 31.32 34.41 37.55" font-size="5.500" fill="#1a1a1a">population_150m</text>
<rect x="518.60" y="302.69" width="49.80" height="8.12" fill="#4c98ff"/>
<text transform="translate(487.34 308.75) scale(1.0119 1)" x="0.10 2.01 4.93 8.01 10.82 13.62 16.77 19.91 23.13" font-size="5.500" fill="#1a1a1a">road_200m</text>
<rect x="518.60" y="314.29" width="39.30" height="8.12" fill="#4c98ff"/>
<text transform="translate(512.54 320.35) scale(1.0760 1)" x="0.00" font-size="5.500" fill="#1a1a1a">y</text>
<rect x="518.60" y="325.89" width="37.80" height="8.12" fill="#4c98ff"/>
<text transform="translate(471.98 331.95) scale(1.0313 1)" x="0.01 3.03 6.05 9.13 12.26 13.50 16.70 18.48 19.71 22.73 25.48 28.24 31.32 34.41 37.55" font-size="5.500" fill="#1a1a1a">population_100m</text>
<rect x="518.60" y="337.49" width="29.50" height="8.12" fill="#4c98ff"/>
<text transform="translate(474.64 343.55) scale(1.0358 1)" x="0.00 3.06 6.18 7.52 8.81 11.93 13.21 16.27 19.01 21.75 24.77 27.78 30.72 33.41 34.88 36.64" font-size="5.500" fill="#1a1a1a">building_density</text>
<rect x="518.60" y="349.09" width="20.90" height="8.12" fill="#4c98ff"/>
<text transform="translate(490.96 355.15) scale(1.0157 1)" x="0.03 3.10 6.21 7.21 10.00 13.13 16.27 19.47" font-size="5.500" fill="#1a1a1a">poi_200m</text>
<rect x="518.60" y="360.69" width="15.60" height="8.12" fill="#4c98ff"/>
<text transform="translate(466.98 366.75) scale(0.9980 1)" x="0.06 3.29 5.25 8.22 11.35 14.19 16.90 19.65 22.77 25.84 28.60 31.39 34.24 37.43 40.62 43.89" font-size="5.500" fill="#1a1a1a">green_space_200m</text>
<rect x="518.60" y="372.29" width="15.60" height="8.12" fill="#4c98ff"/>
<text transform="translate(479.68 378.35) scale(1.0099 1)" x="-0.09 2.57 5.61 8.57 11.22 14.31 17.11 19.92 24.01 25.34 28.65 30.38 33.53" font-size="5.500" fill="#1a1a1a">season_winter</text>
<rect x="518.60" y="383.89" width="15.00" height="8.12" fill="#4c98ff"/>
<text transform="translate(491.71 389.95) scale(1.0240 1)" x="0.10 1.69 4.80 6.41 9.18 12.29 15.40 18.57" font-size="5.500" fill="#1a1a1a">far_150m</text>
<rect x="518.60" y="395.49" width="14.20" height="8.12" fill="#4c98ff"/>
<text transform="translate(476.02 401.55) scale(1.0087 1)" x="-0.08 2.58 5.62 8.59 11.24 14.33 17.14 19.89 22.98 26.29 28.07 31.29 36.04" font-size="5.500" fill="#1a1a1a">season_autumn</text>
<line x1="518.60" y1="225.55" x2="518.60" y2="411.15" stroke="#333" stroke-width="0.35" opacity="0.6"/>
<line x1="518.60" y1="411.15" x2="680.30" y2="411.15" stroke="#666" stroke-width="0.8"/>
<line x1="518.60" y1="411.15" x2="518.60" y2="412.45" stroke="#333" stroke-width="0.35"/>
<text transform="translate(511.20 417.50) scale(1.0692 1)" x="-0.00 2.52 3.78 6.29 8.81 11.33" font-size="4.527" fill="#1a1a1a">0.0000</text>
<line x1="540.17" y1="411.15" x2="540.17" y2="412.45" stroke="#333" stroke-width="0.35"/>
<text transform="translate(532.77 417.50) scale(1.0692 1)" x="-0.00 2.52 3.78 6.29 8.81 11.33" font-size="4.527" fill="#1a1a1a">0.0025</text>
<line x1="561.75" y1="411.15" x2="561.75" y2="412.45" stroke="#333" stroke-width="0.35"/>
<text transform="translate(554.34 417.50) scale(1.0692 1)" x="-0.00 2.52 3.78 6.29 8.81 11.33" font-size="4.527" fill="#1a1a1a">0.0050</text>
<line x1="583.32" y1="411.15" x2="583.32" y2="412.45" stroke="#333" stroke-width="0.35"/>
<text transform="translate(575.92 417.50) scale(1.0692 1)" x="-0.00 2.52 3.78 6.29 8.81 11.33" font-size="4.527" fill="#1a1a1a">0.0075</text>
<line x1="604.89" y1="411.15" x2="604.89" y2="412.45" stroke="#333" stroke-width="0.35"/>
<text transform="translate(597.49 417.50) scale(1.0692 1)" x="-0.00 2.52 3.78 6.29 8.81 11.33" font-size="4.527" fill="#1a1a1a">0.0100</text>
<line x1="626.46" y1="411.15" x2="626.46" y2="412.45" stroke="#333" stroke-width="0.35"/>
<text transform="translate(619.06 417.50) scale(1.0692 1)" x="-0.00 2.52 3.78 6.29 8.81 11.33" font-size="4.527" fill="#1a1a1a">0.0125</text>
<line x1="648.04" y1="411.15" x2="648.04" y2="412.45" stroke="#333" stroke-width="0.35"/>
<text transform="translate(640.63 417.50) scale(1.0692 1)" x="-0.00 2.52 3.78 6.29 8.81 11.33" font-size="4.527" fill="#1a1a1a">0.0150</text>
<line x1="669.61" y1="411.15" x2="669.61" y2="412.45" stroke="#333" stroke-width="0.35"/>
<text transform="translate(662.21 417.50) scale(1.0692 1)" x="-0.00 2.52 3.78 6.29 8.81 11.33" font-size="4.527" fill="#1a1a1a">0.0175</text>
<text transform="translate(518.33 223.55) scale(1.0210 1)" x="-0.26 2.74 6.12 9.03 12.10 13.27 16.10 18.63 21.61 23.22 26.15 27.90 30.62 32.01 33.46 37.80 40.62 43.50 45.46 47.02 49.84 52.66 55.15 57.96 59.36 61.03 62.31 65.53 68.00 70.91 72.07 74.65 75.82 78.63 79.97 82.59 84.16 86.97 89.89 91.10 93.97 96.82 98.22 101.20 102.80 104.41 106.02 108.84 111.66 113.06 115.65 117.40 120.00 122.36 124.82 128.48 131.34 132.57 135.16 136.62 138.08 141.55 143.71 147.11 149.98 151.43 154.30 157.19" font-size="5.077" fill="#000">SHAP Feature Importance - Vehicle stoping at the crosswalk (R²=0.41)</text>
<text transform="translate(516.19 423.30) scale(1.0354 1)" x="0.06 4.66 7.62 10.63 13.72 15.68 16.90 20.10 23.72 26.83 30.12 31.71 34.46 37.53 38.81 41.83 44.94 46.49 48.36 49.91 51.72 54.78 57.54 60.64 62.49 65.51 68.52 71.54 73.13 74.48 79.12 82.14 85.10 87.98 89.70 91.18 94.18 97.25 98.84 103.43 106.44 109.46 112.53 113.82 115.30 118.30 121.55 123.26 126.32 129.56 131.28 132.87 137.46 140.48 143.54 146.66 148.12 149.83 152.90 155.92 158.96" font-size="5.500" fill="#1a1a1a">mean(|SHAP value|) (average impact on model output magnitude)</text>
</g>
<clipPath id="c6"><rect x="0" y="0" width="217.0" height="863"/></clipPath>
<g clip-path="url(#c6)">
<rect x="83.80" y="449.14" width="123.80" height="8.12" fill="#4c98ff"/>
<text transform="translate(39.84 455.20) scale(1.0358 1)" x="0.00 3.06 6.18 7.52 8.81 11.93 13.21 16.27 19.01 21.75 24.77 27.78 30.72 33.41 34.88 36.64" font-size="5.500" fill="#1a1a1a">building_density</text>
<rect x="83.80" y="460.74" width="118.40" height="8.12" fill="#4c98ff"/>
<text transform="translate(72.09 466.80) scale(0.9716 1)" x="-0.19 3.64 6.89" font-size="5.500" fill="#1a1a1a">Car</text>
<rect x="83.80" y="472.34" width="56.20" height="8.12" fill="#4c98ff"/>
<text transform="translate(53.18 478.40) scale(1.0230 1)" x="0.09 1.98 4.86 7.91 10.68 13.45 17.50 18.81 22.09 23.83" font-size="5.500" fill="#1a1a1a">road_width</text>
<rect x="83.80" y="483.94" width="49.20" height="8.12" fill="#4c98ff"/>
<text transform="translate(77.74 490.00) scale(1.0760 1)" x="0.00" font-size="5.500" fill="#1a1a1a">y</text>
<rect x="83.80" y="495.54" width="47.20" height="8.12" fill="#4c98ff"/>
<text transform="translate(52.54 501.60) scale(1.0119 1)" x="0.10 2.01 4.93 8.01 10.82 13.62 16.77 19.91 23.13" font-size="5.500" fill="#1a1a1a">road_200m</text>
<rect x="83.80" y="507.14" width="47.00" height="8.12" fill="#4c98ff"/>
<text transform="translate(34.62 513.20) scale(1.0255 1)" x="-0.03 2.64 5.75 10.50 15.13 18.25 20.13 22.81 24.06 27.15 28.13 30.90 34.00 37.10 40.27" font-size="5.500" fill="#1a1a1a">commercial_200m</text>
<rect x="83.80" y="518.74" width="45.00" height="8.12" fill="#4c98ff"/>
<text transform="translate(54.34 524.80) scale(1.0144 1)" x="0.03 3.12 6.26 8.26 9.54 12.61 15.40 18.15 21.30" font-size="5.500" fill="#1a1a1a">period_am</text>
<rect x="83.80" y="530.34" width="44.10" height="8.12" fill="#4c98ff"/>
<text transform="translate(45.06 536.40) scale(0.9964 1)" x="-0.07 2.63 5.71 8.71 11.40 14.52 17.37 20.08 22.83 26.07 28.10 29.47 32.65" font-size="5.500" fill="#1a1a1a">season_spring</text>
<rect x="83.80" y="541.94" width="41.10" height="8.12" fill="#4c98ff"/>
<text transform="translate(43.76 548.00) scale(1.0325 1)" x="0.01 3.08 6.20 7.55 8.84 11.97 13.26 16.33 19.08 21.83 24.91 27.99 31.13" font-size="5.500" fill="#1a1a1a">building_150m</text>
<rect x="83.80" y="553.54" width="40.20" height="8.12" fill="#4c98ff"/>
<text transform="translate(63.21 559.60) scale(1.0401 1)" x="-0.00 3.11 4.33 7.08 9.82 12.58 13.80" font-size="5.500" fill="#1a1a1a">bicycle</text>
<rect x="83.80" y="565.14" width="32.40" height="8.12" fill="#4c98ff"/>
<text transform="translate(0.30 571.20) scale(1.0313 1)" x="-0.18 3.28 5.93 9.06 10.30 13.07 14.32 17.34 18.77 21.59 23.26 26.28 29.41 30.70 33.78 36.85 38.34 41.54 43.27 44.99 46.71 49.74 52.76 54.26 57.04 58.91 61.70 64.23 66.87 70.79 73.87 75.18" font-size="5.500" fill="#1a1a1a">Vehicle stoping at the crosswalk</text>
<rect x="83.80" y="576.74" width="31.40" height="8.12" fill="#4c98ff"/>
<text transform="translate(77.74 582.80) scale(1.0760 1)" x="0.00" font-size="5.500" fill="#1a1a1a">x</text>
<rect x="83.80" y="588.34" width="27.30" height="8.12" fill="#4c98ff"/>
<text transform="translate(37.18 594.40) scale(1.0313 1)" x="0.01 3.03 6.05 9.13 12.26 13.50 16.70 18.48 19.71 22.73 25.48 28.24 31.32 34.41 37.55" font-size="5.500" fill="#1a1a1a">population_100m</text>
<rect x="83.80" y="599.94" width="26.20" height="8.12" fill="#4c98ff"/>
<text transform="translate(37.18 606.00) scale(1.0313 1)" x="0.01 3.03 6.05 9.13 12.26 13.50 16.70 18.48 19.71 22.73 25.48 28.24 31.32 34.41 37.55" font-size="5.500" fill="#1a1a1a">population_150m</text>
<rect x="83.80" y="611.54" width="25.00" height="8.12" fill="#4c98ff"/>
<text transform="translate(56.91 617.60) scale(1.0240 1)" x="0.10 1.69 4.80 6.41 9.18 12.29 15.40 18.57" font-size="5.500" fill="#1a1a1a">far_100m</text>
<line x1="83.80" y1="441.60" x2="83.80" y2="627.20" stroke="#333" stroke-width="0.35" opacity="0.6"/>
<line x1="83.80" y1="627.20" x2="213.79" y2="627.20" stroke="#666" stroke-width="0.8"/>
<line x1="83.80" y1="627.20" x2="83.80" y2="628.50" stroke="#333" stroke-width="0.35"/>
<text transform="translate(77.74 633.55) scale(1.0692 1)" x="-0.00 2.52 3.78 6.29 8.81" font-size="4.527" fill="#1a1a1a">0.000</text>
<line x1="98.98" y1="627.20" x2="98.98" y2="628.50" stroke="#333" stroke-width="0.35"/>
<text transform="translate(92.92 633.55) scale(1.0692 1)" x="-0.00 2.52 3.78 6.29 8.81" font-size="4.527" fill="#1a1a1a">0.005</text>
<line x1="114.16" y1="627.20" x2="114.16" y2="628.50" stroke="#333" stroke-width="0.35"/>
<text transform="translate(108.10 633.55) scale(1.0692 1)" x="-0.00 2.52 3.78 6.29 8.81" font-size="4.527" fill="#1a1a1a">0.010</text>
<line x1="129.34" y1="627.20" x2="129.34" y2="628.50" stroke="#333" stroke-width="0.35"/>
<text transform="translate(123.28 633.55) scale(1.0692 1)" x="-0.00 2.52 3.78 6.29 8.81" font-size="4.527" fill="#1a1a1a">0.015</text>
<line x1="144.52" y1="627.20" x2="144.52" y2="628.50" stroke="#333" stroke-width="0.35"/>
<text transform="translate(138.46 633.55) scale(1.0692 1)" x="-0.00 2.52 3.78 6.29 8.81" font-size="4.527" fill="#1a1a1a">0.020</text>
<line x1="159.70" y1="627.20" x2="159.70" y2="628.50" stroke="#333" stroke-width="0.35"/>
<text transform="translate(153.64 633.55) scale(1.0692 1)" x="-0.00 2.52 3.78 6.29 8.81" font-size="4.527" fill="#1a1a1a">0.025</text>
<line x1="174.88" y1="627.20" x2="174.88" y2="628.50" stroke="#333" stroke-width="0.35"/>
<text transform="translate(168.82 633.55) scale(1.0692 1)" x="-0.00 2.52 3.78 6.29 8.81" font-size="4.527" fill="#1a1a1a">0.030</text>
<line x1="190.06" y1="627.20" x2="190.06" y2="628.50" stroke="#333" stroke-width="0.35"/>
<text transform="translate(184.00 633.55) scale(1.0692 1)" x="-0.00 2.52 3.78 6.29 8.81" font-size="4.527" fill="#1a1a1a">0.035</text>
<line x1="205.24" y1="627.20" x2="205.24" y2="628.50" stroke="#333" stroke-width="0.35"/>
<text transform="translate(199.18 633.55) scale(1.0692 1)" x="-0.00 2.52 3.78 6.29 8.81" font-size="4.527" fill="#1a1a1a">0.040</text>
<text transform="translate(84.79 439.60) scale(1.0121 1)" x="-0.25 2.78 6.19 9.12 12.21 13.40 16.26 18.81 21.80 23.44 26.39 28.16 30.89 32.29 33.77 38.15 40.99 43.89 45.86 47.44 50.29 53.13 55.64 58.47 59.88 61.57 62.75 66.15 68.74 71.58 74.36 76.89 78.12 80.97 83.80 85.27 88.11 91.01 92.85 95.51 96.74 99.63 102.51 103.98 105.47 108.96 111.14 114.57 117.46 118.93 121.83 124.73" font-size="5.077" fill="#000">SHAP Feature Importance - Roadside parking (R²=0.43)</text>
<text transform="translate(65.54 639.35) scale(1.0354 1)" x="0.06 4.66 7.62 10.63 13.72 15.68 16.90 20.10 23.72 26.83 30.12 31.71 34.46 37.53 38.81 41.83 44.94 46.49 48.36 49.91 51.72 54.78 57.54 60.64 62.49 65.51 68.52 71.54 73.13 74.48 79.12 82.14 85.10 87.98 89.70 91.18 94.18 97.25 98.84 103.43 106.44 109.46 112.53 113.82 115.30 118.30 121.55 123.26 126.32 129.56 131.28 132.87 137.46 140.48 143.54 146.66 148.12 149.83 152.90 155.92 158.96" font-size="5.500" fill="#1a1a1a">mean(|SHAP value|) (average impact on model output magnitude)</text>
</g>
<clipPath id="c7"><rect x="228" y="0" width="223.3" height="863"/></clipPath>
<g clip-path="url(#c7)">
<rect x="297.40" y="449.14" width="143.60" height="8.12" fill="#4c98ff"/>
<text transform="translate(240.15 455.20) scale(1.0419 1)" x="-0.19 3.53 6.70 8.41 9.91 13.80 16.75 19.82 21.78 23.05 26.09 29.14 30.61 33.61 35.13 38.12 41.18 42.51 47.08 50.27" font-size="5.500" fill="#1a1a1a">Not wearing a helmet</text>
<rect x="297.40" y="460.74" width="103.50" height="8.12" fill="#4c98ff"/>
<text transform="translate(291.34 466.80) scale(1.0760 1)" x="0.00" font-size="5.500" fill="#1a1a1a">x</text>
<rect x="297.40" y="472.34" width="92.60" height="8.12" fill="#4c98ff"/>
<text transform="translate(235.44 478.40) scale(1.0408 1)" x="-0.21 3.01 4.15 7.19 9.94 13.00 14.34 15.61 18.66 21.71 23.18 26.18 29.17 32.23 33.50 36.43 39.23 40.94 42.64 44.42 46.27 49.35 51.04 52.64 53.86" font-size="5.500" fill="#1a1a1a">Traveling against traffic</text>
<rect x="297.40" y="483.94" width="87.50" height="8.12" fill="#4c98ff"/>
<text transform="translate(258.48 490.00) scale(1.0099 1)" x="-0.09 2.57 5.61 8.57 11.22 14.31 17.11 19.92 24.01 25.34 28.65 30.38 33.53" font-size="5.500" fill="#1a1a1a">season_winter</text>
<rect x="297.40" y="495.54" width="74.10" height="8.12" fill="#4c98ff"/>
<text transform="translate(267.89 501.60) scale(1.0043 1)" x="-0.33 3.00 5.94 9.05 12.03 14.92 16.77 18.79 20.08 23.19" font-size="5.500" fill="#1a1a1a">Pedestrian</text>
<rect x="297.40" y="507.14" width="68.80" height="8.12" fill="#4c98ff"/>
<text transform="translate(280.78 513.20) scale(0.9824 1)" x="-0.23 3.30 6.54 7.96 10.84" font-size="5.500" fill="#1a1a1a">Ebike</text>
<rect x="297.40" y="518.74" width="66.50" height="8.12" fill="#4c98ff"/>
<text transform="translate(270.51 524.80) scale(1.0240 1)" x="0.10 1.69 4.80 6.41 9.18 12.29 15.40 18.57" font-size="5.500" fill="#1a1a1a">far_100m</text>
<rect x="297.40" y="530.34" width="54.80" height="8.12" fill="#4c98ff"/>
<text transform="translate(253.44 536.40) scale(1.0358 1)" x="0.00 3.06 6.18 7.52 8.81 11.93 13.21 16.27 19.01 21.75 24.77 27.78 30.72 33.41 34.88 36.64" font-size="5.500" fill="#1a1a1a">building_density</text>
<rect x="297.40" y="541.94" width="22.10" height="8.12" fill="#4c98ff"/>
<text transform="translate(266.14 548.00) scale(1.0119 1)" x="0.10 2.01 4.93 8.01 10.82 13.62 16.77 19.91 23.13" font-size="5.500" fill="#1a1a1a">road_200m</text>
<rect x="297.40" y="553.54" width="20.00" height="8.12" fill="#4c98ff"/>
<text transform="translate(277.76 559.60) scale(1.0216 1)" x="-0.28 3.49 6.28 9.07 10.43 11.62 14.47" font-size="5.500" fill="#1a1a1a">Cyclist</text>
<rect x="297.40" y="565.14" width="16.00" height="8.12" fill="#4c98ff"/>
<text transform="translate(269.76 571.20) scale(1.0157 1)" x="0.03 3.10 6.21 7.21 10.00 13.13 16.27 19.47" font-size="5.500" fill="#1a1a1a">poi_200m</text>
<rect x="297.40" y="576.74" width="12.60" height="8.12" fill="#4c98ff"/>
<text transform="translate(250.78 582.80) scale(1.0313 1)" x="0.01 3.03 6.05 9.13 12.26 13.50 16.70 18.48 19.71 22.73 25.48 28.24 31.32 34.41 37.55" font-size="5.500" fill="#1a1a1a">population_150m</text>
<rect x="297.40" y="588.34" width="11.30" height="8.12" fill="#4c98ff"/>
<text transform="translate(248.22 594.40) scale(1.0255 1)" x="-0.03 2.64 5.75 10.50 15.13 18.25 20.13 22.81 24.06 27.15 28.13 30.90 34.00 37.10 40.27" font-size="5.500" fill="#1a1a1a">commercial_150m</text>
<rect x="297.40" y="599.94" width="10.70" height="8.12" fill="#4c98ff"/>
<text transform="translate(255.36 606.00) scale(1.0190 1)" x="-0.10 3.76 6.87 8.23 9.50 12.62 15.43 18.56 20.56 23.40 24.66 28.07 31.23 32.57 35.35" font-size="5.500" fill="#1a1a1a">Delievery Ebike</text>
<rect x="297.40" y="611.54" width="9.50" height="8.12" fill="#4c98ff"/>
<text transform="translate(248.22 617.60) scale(1.0183 1)" x="-0.19 3.50 6.22 7.54 10.66 13.76 15.28 18.33 19.85 22.56 25.67 27.03 28.34 29.91 33.03 36.09 39.15 42.21" font-size="5.500" fill="#1a1a1a">Using a cell phone</text>
<line x1="297.40" y1="441.60" x2="297.40" y2="627.20" stroke="#333" stroke-width="0.35" opacity="0.6"/>
<line x1="297.40" y1="627.20" x2="448.18" y2="627.20" stroke="#666" stroke-width="0.8"/>
<line x1="297.40" y1="627.20" x2="297.40" y2="628.50" stroke="#333" stroke-width="0.35"/>
<text transform="translate(291.34 633.55) scale(1.0692 1)" x="-0.00 2.52 3.78 6.29 8.81" font-size="4.527" fill="#1a1a1a">0.000</text>
<line x1="328.40" y1="627.20" x2="328.40" y2="628.50" stroke="#333" stroke-width="0.35"/>
<text transform="translate(322.34 633.55) scale(1.0692 1)" x="-0.00 2.52 3.78 6.29 8.81" font-size="4.527" fill="#1a1a1a">0.002</text>
<line x1="359.40" y1="627.20" x2="359.40" y2="628.50" stroke="#333" stroke-width="0.35"/>
<text transform="translate(353.34 633.55) scale(1.0692 1)" x="-0.00 2.52 3.78 6.29 8.81" font-size="4.527" fill="#1a1a1a">0.004</text>
<line x1="390.40" y1="627.20" x2="390.40" y2="628.50" stroke="#333" stroke-width="0.35"/>
<text transform="translate(384.34 633.55) scale(1.0692 1)" x="-0.00 2.52 3.78 6.29 8.81" font-size="4.527" fill="#1a1a1a">0.006</text>
<line x1="421.40" y1="627.20" x2="421.40" y2="628.50" stroke="#333" stroke-width="0.35"/>
<text transform="translate(415.34 633.55) scale(1.0692 1)" x="-0.00 2.52 3.78 6.29 8.81" font-size="4.527" fill="#1a1a1a">0.008</text>
<text transform="translate(307.15 439.60) scale(1.0155 1)" x="-0.25 2.76 6.16 9.09 12.17 13.35 16.20 18.74 21.73 23.36 26.30 28.06 30.79 32.18 33.66 38.02 40.85 43.74 45.71 47.28 50.12 52.95 55.45 58.28 59.68 61.36 62.54 66.02 67.24 70.17 71.39 74.27 77.14 78.55 81.38 84.25 85.59 88.11 89.34 92.18 95.02 98.69 101.56 102.80 105.40 106.87 108.35 111.83 114.01 117.43 120.30 121.76 124.66 127.55" font-size="5.077" fill="#000">SHAP Feature Importance - Riding on sidewalk (R²=0.52)</text>
<text transform="translate(289.53 639.35) scale(1.0354 1)" x="0.06 4.66 7.62 10.63 13.72 15.68 16.90 20.10 23.72 26.83 30.12 31.71 34.46 37.53 38.81 41.83 44.94 46.49 48.36 49.91 51.72 54.78 57.54 60.64 62.49 65.51 68.52 71.54 73.13 74.48 79.12 82.14 85.10 87.98 89.70 91.18 94.18 97.25 98.84 103.43 106.44 109.46 112.53 113.82 115.30 118.30 121.55 123.26 126.32 129.56 131.28 132.87 137.46 140.48 143.54 146.66 148.12 149.83 152.90 155.92 158.96" font-size="5.500" fill="#1a1a1a">mean(|SHAP value|) (average impact on model output magnitude)</text>
</g>
<clipPath id="c8"><rect x="457" y="0" width="226.0" height="863"/></clipPath>
<g clip-path="url(#c8)">
<rect x="523.80" y="449.14" width="148.60" height="8.12" fill="#4c98ff"/>
<text transform="translate(492.54 455.20) scale(1.0119 1)" x="0.10 2.01 4.93 8.01 10.82 13.62 16.77 19.91 23.13" font-size="5.500" fill="#1a1a1a">road_200m</text>
<rect x="523.80" y="460.74" width="128.70" height="8.12" fill="#4c98ff"/>
<text transform="translate(479.84 466.80) scale(1.0358 1)" x="0.00 3.06 6.18 7.52 8.81 11.93 13.21 16.27 19.01 21.75 24.77 27.78 30.72 33.41 34.88 36.64" font-size="5.500" fill="#1a1a1a">building_density</text>
<rect x="523.80" y="472.34" width="80.30" height="8.12" fill="#4c98ff"/>
<text transform="translate(476.95 478.40) scale(1.0525 1)" x="-0.16 3.59 6.63 7.95 9.15 12.17 14.89 17.94 19.86 22.63 24.32 26.07 28.02 29.22 31.93 34.64 37.37 38.57" font-size="5.500" fill="#1a1a1a">Delievery tricycle</text>
<rect x="523.80" y="483.94" width="57.30" height="8.12" fill="#4c98ff"/>
<text transform="translate(477.18 490.00) scale(1.0313 1)" x="0.01 3.03 6.05 9.13 12.26 13.50 16.70 18.48 19.71 22.73 25.48 28.24 31.32 34.41 37.55" font-size="5.500" fill="#1a1a1a">population_150m</text>
<rect x="523.80" y="495.54" width="56.30" height="8.12" fill="#4c98ff"/>
<text transform="translate(477.18 501.60) scale(1.0313 1)" x="0.01 3.03 6.05 9.13 12.26 13.50 16.70 18.48 19.71 22.73 25.48 28.24 31.32 34.41 37.55" font-size="5.500" fill="#1a1a1a">population_200m</text>
<rect x="523.80" y="507.14" width="54.00" height="8.12" fill="#4c98ff"/>
<text transform="translate(517.74 513.20) scale(1.0760 1)" x="0.00" font-size="5.500" fill="#1a1a1a">x</text>
<rect x="523.80" y="518.74" width="48.30" height="8.12" fill="#4c98ff"/>
<text transform="translate(473.29 524.80) scale(1.0408 1)" x="-0.06 1.47 2.81 4.03 7.04 10.03 13.09 14.37 15.89 19.00 20.30 23.01 25.85 27.37 30.37 33.44 35.36 38.18 39.45 42.50" font-size="5.500" fill="#1a1a1a">Illegal bike parking</text>
<rect x="523.80" y="530.34" width="40.20" height="8.12" fill="#4c98ff"/>
<text transform="translate(474.62 536.40) scale(1.0255 1)" x="-0.03 2.64 5.75 10.50 15.13 18.25 20.13 22.81 24.06 27.15 28.13 30.90 34.00 37.10 40.27" font-size="5.500" fill="#1a1a1a">commercial_100m</text>
<rect x="523.80" y="541.94" width="30.90" height="8.12" fill="#4c98ff"/>
<text transform="translate(502.01 548.00) scale(0.9972 1)" x="-0.15 3.18 4.47 5.78 8.65 11.51 14.35 15.67" font-size="5.500" fill="#1a1a1a">Tricycle</text>
<rect x="523.80" y="553.54" width="28.10" height="8.12" fill="#4c98ff"/>
<text transform="translate(466.55 559.60) scale(1.0419 1)" x="-0.19 3.53 6.70 8.41 9.91 13.80 16.75 19.82 21.78 23.05 26.09 29.14 30.61 33.61 35.13 38.12 41.18 42.51 47.08 50.27" font-size="5.500" fill="#1a1a1a">Not wearing a helmet</text>
<rect x="523.80" y="565.14" width="27.70" height="8.12" fill="#4c98ff"/>
<text transform="translate(517.74 571.20) scale(1.0760 1)" x="0.00" font-size="5.500" fill="#1a1a1a">y</text>
<rect x="523.80" y="576.74" width="24.20" height="8.12" fill="#4c98ff"/>
<text transform="translate(483.76 582.80) scale(1.0325 1)" x="0.01 3.08 6.20 7.55 8.84 11.97 13.26 16.33 19.08 21.83 24.91 27.99 31.13" font-size="5.500" fill="#1a1a1a">building_200m</text>
<rect x="523.80" y="588.34" width="22.10" height="8.12" fill="#4c98ff"/>
<text transform="translate(479.97 594.40) scale(1.0017 1)" x="-0.07 2.61 5.67 8.66 11.33 14.44 17.27 19.97 22.70 25.95 30.81 35.54 38.71" font-size="5.500" fill="#1a1a1a">season_summer</text>
<rect x="523.80" y="599.94" width="22.10" height="8.12" fill="#4c98ff"/>
<text transform="translate(512.09 606.00) scale(0.9716 1)" x="-0.19 3.64 6.89" font-size="5.500" fill="#1a1a1a">Car</text>
<rect x="523.80" y="611.54" width="19.20" height="8.12" fill="#4c98ff"/>
<text transform="translate(507.18 617.60) scale(0.9824 1)" x="-0.23 3.30 6.54 7.96 10.84" font-size="5.500" fill="#1a1a1a">Ebike</text>
<line x1="523.80" y1="441.60" x2="523.80" y2="627.20" stroke="#333" stroke-width="0.35" opacity="0.6"/>
<line x1="523.80" y1="627.20" x2="679.83" y2="627.20" stroke="#666" stroke-width="0.8"/>
<line x1="523.80" y1="627.20" x2="523.80" y2="628.50" stroke="#333" stroke-width="0.35"/>
<text transform="translate(516.40 633.55) scale(1.0692 1)" x="-0.00 2.52 3.78 6.29 8.81 11.33" font-size="4.527" fill="#1a1a1a">0.0000</text>
<line x1="546.40" y1="627.20" x2="546.40" y2="628.50" stroke="#333" stroke-width="0.35"/>
<text transform="translate(539.00 633.55) scale(1.0692 1)" x="-0.00 2.52 3.78 6.29 8.81 11.33" font-size="4.527" fill="#1a1a1a">0.0005</text>
<line x1="569.00" y1="627.20" x2="569.00" y2="628.50" stroke="#333" stroke-width="0.35"/>
<text transform="translate(561.60 633.55) scale(1.0692 1)" x="-0.00 2.52 3.78 6.29 8.81 11.33" font-size="4.527" fill="#1a1a1a">0.0010</text>
<line x1="591.60" y1="627.20" x2="591.60" y2="628.50" stroke="#333" stroke-width="0.35"/>
<text transform="translate(584.20 633.55) scale(1.0692 1)" x="-0.00 2.52 3.78 6.29 8.81 11.33" font-size="4.527" fill="#1a1a1a">0.0015</text>
<line x1="614.20" y1="627.20" x2="614.20" y2="628.50" stroke="#333" stroke-width="0.35"/>
<text transform="translate(606.80 633.55) scale(1.0692 1)" x="-0.00 2.52 3.78 6.29 8.81 11.33" font-size="4.527" fill="#1a1a1a">0.0020</text>
<line x1="636.80" y1="627.20" x2="636.80" y2="628.50" stroke="#333" stroke-width="0.35"/>
<text transform="translate(629.40 633.55) scale(1.0692 1)" x="-0.00 2.52 3.78 6.29 8.81 11.33" font-size="4.527" fill="#1a1a1a">0.0025</text>
<line x1="659.40" y1="627.20" x2="659.40" y2="628.50" stroke="#333" stroke-width="0.35"/>
<text transform="translate(652.00 633.55) scale(1.0692 1)" x="-0.00 2.52 3.78 6.29 8.81 11.33" font-size="4.527" fill="#1a1a1a">0.0030</text>
<text transform="translate(528.16 439.60) scale(1.0213 1)" x="-0.26 2.73 6.12 9.03 12.10 13.27 16.10 18.63 21.60 23.21 26.14 27.90 30.61 32.00 33.45 37.79 40.61 43.49 45.44 47.01 49.82 52.64 55.13 57.95 59.34 61.01 62.40 63.83 65.09 66.26 69.08 71.90 74.76 75.97 77.46 80.04 82.87 85.77 86.94 89.51 90.68 93.39 95.85 97.25 100.06 102.92 104.52 106.14 108.96 111.77 113.28 115.03 117.69 120.51 123.37 124.83 126.29 129.76 131.92 135.32 138.18 139.63 142.52" font-size="5.077" fill="#000">SHAP Feature Importance - Illegal vehicles on the road (R²=0.2)</text>
<text transform="translate(518.56 639.35) scale(1.0354 1)" x="0.06 4.66 7.62 10.63 13.72 15.68 16.90 20.10 23.72 26.83 30.12 31.71 34.46 37.53 38.81 41.83 44.94 46.49 48.36 49.91 51.72 54.78 57.54 60.64 62.49 65.51 68.52 71.54 73.13 74.48 79.12 82.14 85.10 87.98 89.70 91.18 94.18 97.25 98.84 103.43 106.44 109.46 112.53 113.82 115.30 118.30 121.55 123.26 126.32 129.56 131.28 132.87 137.46 140.48 143.54 146.66 148.12 149.83 152.90 155.92 158.96" font-size="5.500" fill="#1a1a1a">mean(|SHAP value|) (average impact on model output magnitude)</text>
</g>
<clipPath id="c9"><rect x="0" y="0" width="216.5" height="863"/></clipPath>
<g clip-path="url(#c9)">
<rect x="57.30" y="670.69" width="148.50" height="8.12" fill="#4c98ff"/>
<text transform="translate(0.05 676.75) scale(1.0419 1)" x="-0.19 3.53 6.70 8.41 9.91 13.80 16.75 19.82 21.78 23.05 26.09 29.14 30.61 33.61 35.13 38.12 41.18 42.51 47.08 50.27" font-size="5.500" fill="#1a1a1a">Not wearing a helmet</text>
<rect x="57.30" y="682.29" width="78.80" height="8.12" fill="#4c98ff"/>
<text transform="translate(40.68 688.35) scale(0.9824 1)" x="-0.23 3.30 6.54 7.96 10.84" font-size="5.500" fill="#1a1a1a">Ebike</text>
<rect x="57.30" y="693.89" width="52.70" height="8.12" fill="#4c98ff"/>
<text transform="translate(18.56 699.95) scale(0.9964 1)" x="-0.07 2.63 5.71 8.71 11.40 14.52 17.37 20.08 22.83 26.07 28.10 29.47 32.65" font-size="5.500" fill="#1a1a1a">season_spring</text>
<rect x="57.30" y="705.49" width="41.00" height="8.12" fill="#4c98ff"/>
<text transform="translate(18.38 711.55) scale(1.0099 1)" x="-0.09 2.57 5.61 8.57 11.22 14.31 17.11 19.92 24.01 25.34 28.65 30.38 33.53" font-size="5.500" fill="#1a1a1a">season_winter</text>
<rect x="57.30" y="717.09" width="36.60" height="8.12" fill="#4c98ff"/>
<text transform="translate(51.24 723.15) scale(1.0760 1)" x="0.00" font-size="5.500" fill="#1a1a1a">y</text>
<rect x="57.30" y="728.69" width="30.20" height="8.12" fill="#4c98ff"/>
<text transform="translate(5.68 734.75) scale(0.9980 1)" x="0.06 3.29 5.25 8.22 11.35 14.19 16.90 19.65 22.77 25.84 28.60 31.39 34.24 37.43 40.62 43.89" font-size="5.500" fill="#1a1a1a">green_space_200m</text>
<rect x="57.30" y="740.29" width="27.00" height="8.12" fill="#4c98ff"/>
<text transform="translate(15.26 746.35) scale(1.0190 1)" x="-0.10 3.76 6.87 8.23 9.50 12.62 15.43 18.56 20.56 23.40 24.66 28.07 31.23 32.57 35.35" font-size="5.500" fill="#1a1a1a">Delievery Ebike</text>
<rect x="57.30" y="751.89" width="23.60" height="8.12" fill="#4c98ff"/>
<text transform="translate(36.71 757.95) scale(1.0401 1)" x="-0.00 3.11 4.33 7.08 9.82 12.58 13.80" font-size="5.500" fill="#1a1a1a">bicycle</text>
<rect x="57.30" y="763.49" width="19.10" height="8.12" fill="#4c98ff"/>
<text transform="translate(26.68 769.55) scale(1.0230 1)" x="0.09 1.98 4.86 7.91 10.68 13.45 17.50 18.81 22.09 23.83" font-size="5.500" fill="#1a1a1a">road_width</text>
<rect x="57.30" y="775.09" width="16.50" height="8.12" fill="#4c98ff"/>
<text transform="translate(8.12 781.15) scale(1.0255 1)" x="-0.03 2.64 5.75 10.50 15.13 18.25 20.13 22.81 24.06 27.15 28.13 30.90 34.00 37.10 40.27" font-size="5.500" fill="#1a1a1a">commercial_200m</text>
<rect x="57.30" y="786.69" width="14.60" height="8.12" fill="#4c98ff"/>
<text transform="translate(5.68 792.75) scale(0.9980 1)" x="0.06 3.29 5.25 8.22 11.35 14.19 16.90 19.65 22.77 25.84 28.60 31.39 34.24 37.43 40.62 43.89" font-size="5.500" fill="#1a1a1a">green_space_100m</text>
<rect x="57.30" y="798.29" width="13.70" height="8.12" fill="#4c98ff"/>
<text transform="translate(10.68 804.35) scale(1.0313 1)" x="0.01 3.03 6.05 9.13 12.26 13.50 16.70 18.48 19.71 22.73 25.48 28.24 31.32 34.41 37.55" font-size="5.500" fill="#1a1a1a">population_100m</text>
<rect x="57.30" y="809.89" width="13.70" height="8.12" fill="#4c98ff"/>
<text transform="translate(28.34 815.95) scale(1.0069 1)" x="0.05 3.20 6.22 8.60 11.42 14.58 17.74 20.98" font-size="5.500" fill="#1a1a1a">bus_200m</text>
<rect x="57.30" y="821.49" width="11.70" height="8.12" fill="#4c98ff"/>
<text transform="translate(8.12 827.55) scale(1.0255 1)" x="-0.03 2.64 5.75 10.50 15.13 18.25 20.13 22.81 24.06 27.15 28.13 30.90 34.00 37.10 40.27" font-size="5.500" fill="#1a1a1a">commercial_150m</text>
<rect x="57.30" y="833.09" width="11.70" height="8.12" fill="#4c98ff"/>
<text transform="translate(2.74 839.15) scale(1.0141 1)" x="-0.26 3.42 6.56 8.59 10.52 13.42 14.75 17.88 20.99 22.58 25.65 28.60 31.17 33.82 36.90 40.02 43.10 46.25 48.09" font-size="5.500" fill="#1a1a1a">Carrying passengers</text>
<line x1="57.30" y1="663.15" x2="57.30" y2="848.75" stroke="#333" stroke-width="0.35" opacity="0.6"/>
<line x1="57.30" y1="848.75" x2="213.23" y2="848.75" stroke="#666" stroke-width="0.8"/>
<line x1="57.30" y1="848.75" x2="57.30" y2="850.05" stroke="#333" stroke-width="0.35"/>
<text transform="translate(51.24 855.10) scale(1.0692 1)" x="-0.00 2.52 3.78 6.29 8.81" font-size="4.527" fill="#1a1a1a">0.000</text>
<line x1="85.76" y1="848.75" x2="85.76" y2="850.05" stroke="#333" stroke-width="0.35"/>
<text transform="translate(79.70 855.10) scale(1.0692 1)" x="-0.00 2.52 3.78 6.29 8.81" font-size="4.527" fill="#1a1a1a">0.005</text>
<line x1="114.22" y1="848.75" x2="114.22" y2="850.05" stroke="#333" stroke-width="0.35"/>
<text transform="translate(108.16 855.10) scale(1.0692 1)" x="-0.00 2.52 3.78 6.29 8.81" font-size="4.527" fill="#1a1a1a">0.010</text>
<line x1="142.68" y1="848.75" x2="142.68" y2="850.05" stroke="#333" stroke-width="0.35"/>
<text transform="translate(136.62 855.10) scale(1.0692 1)" x="-0.00 2.52 3.78 6.29 8.81" font-size="4.527" fill="#1a1a1a">0.015</text>
<line x1="171.14" y1="848.75" x2="171.14" y2="850.05" stroke="#333" stroke-width="0.35"/>
<text transform="translate(165.08 855.10) scale(1.0692 1)" x="-0.00 2.52 3.78 6.29 8.81" font-size="4.527" fill="#1a1a1a">0.020</text>
<line x1="199.60" y1="848.75" x2="199.60" y2="850.05" stroke="#333" stroke-width="0.35"/>
<text transform="translate(193.54 855.10) scale(1.0692 1)" x="-0.00 2.52 3.78 6.29 8.81" font-size="4.527" fill="#1a1a1a">0.025</text>
<text transform="translate(63.51 661.15) scale(1.0229 1)" x="-0.26 2.73 6.11 9.01 12.08 13.25 16.07 18.59 21.57 23.18 26.10 27.85 30.56 31.94 33.40 37.73 40.54 43.42 45.37 46.93 49.74 52.56 55.04 57.85 59.24 60.92 62.07 65.54 66.75 69.65 70.86 73.72 76.58 77.97 80.78 83.64 85.24 86.85 89.66 92.47 93.98 98.26 101.23 102.79 105.67 107.45 111.10 113.96 116.58 118.03 119.49 122.95 125.11 128.51 131.37 132.81 135.68 138.56" font-size="5.077" fill="#000">SHAP Feature Importance - Riding on the motorway (R²=0.27)</text>
<text transform="translate(52.01 860.90) scale(1.0354 1)" x="0.06 4.66 7.62 10.63 13.72 15.68 16.90 20.10 23.72 26.83 30.12 31.71 34.46 37.53 38.81 41.83 44.94 46.49 48.36 49.91 51.72 54.78 57.54 60.64 62.49 65.51 68.52 71.54 73.13 74.48 79.12 82.14 85.10 87.98 89.70 91.18 94.18 97.25 98.84 103.43 106.44 109.46 112.53 113.82 115.30 118.30 121.55 123.26 126.32 129.56 131.28 132.87 137.46 140.48 143.54 146.66 148.12 149.83 152.90 155.92 158.96" font-size="5.500" fill="#1a1a1a">mean(|SHAP value|) (average impact on model output magnitude)</text>
</g>
<clipPath id="c10"><rect x="228" y="0" width="223.5" height="863"/></clipPath>
<g clip-path="url(#c10)">
<rect x="298.20" y="670.69" width="142.80" height="8.12" fill="#4c98ff"/>
<text transform="translate(281.58 676.75) scale(0.9824 1)" x="-0.23 3.30 6.54 7.96 10.84" font-size="5.500" fill="#1a1a1a">Ebike</text>
<rect x="298.20" y="682.29" width="112.60" height="8.12" fill="#4c98ff"/>
<text transform="translate(243.64 688.35) scale(1.0141 1)" x="-0.26 3.42 6.56 8.59 10.52 13.42 14.75 17.88 20.99 22.58 25.65 28.60 31.17 33.82 36.90 40.02 43.10 46.25 48.09" font-size="5.500" fill="#1a1a1a">Carrying passengers</text>
<rect x="298.20" y="693.89" width="43.50" height="8.12" fill="#4c98ff"/>
<text transform="translate(256.16 699.95) scale(1.0190 1)" x="-0.10 3.76 6.87 8.23 9.50 12.62 15.43 18.56 20.56 23.40 24.66 28.07 31.23 32.57 35.35" font-size="5.500" fill="#1a1a1a">Delievery Ebike</text>
<rect x="298.20" y="705.49" width="37.90" height="8.12" fill="#4c98ff"/>
<text transform="translate(278.56 711.55) scale(1.0216 1)" x="-0.28 3.49 6.28 9.07 10.43 11.62 14.47" font-size="5.500" fill="#1a1a1a">Cyclist</text>
<rect x="298.20" y="717.09" width="28.90" height="8.12" fill="#4c98ff"/>
<text transform="translate(235.01 723.15) scale(1.0400 1)" x="-0.32 3.40 4.67 7.79 9.06 12.11 15.16 16.63 19.63 22.68 24.39 26.09 29.09 32.10 33.68 38.25 41.43 43.08 46.15 48.04 51.93 54.98" font-size="5.500" fill="#1a1a1a">Riding on the motorway</text>
<rect x="298.20" y="728.69" width="13.30" height="8.12" fill="#4c98ff"/>
<text transform="translate(292.14 734.75) scale(1.0760 1)" x="0.00" font-size="5.500" fill="#1a1a1a">y</text>
<rect x="298.20" y="740.29" width="10.80" height="8.12" fill="#4c98ff"/>
<text transform="translate(255.62 746.35) scale(1.0087 1)" x="-0.08 2.58 5.62 8.59 11.24 14.33 17.14 19.89 22.98 26.29 28.07 31.29 36.04" font-size="5.500" fill="#1a1a1a">season_autumn</text>
<rect x="298.20" y="751.89" width="9.80" height="8.12" fill="#4c98ff"/>
<text transform="translate(251.58 757.95) scale(1.0313 1)" x="0.01 3.03 6.05 9.13 12.26 13.50 16.70 18.48 19.71 22.73 25.48 28.24 31.32 34.41 37.55" font-size="5.500" fill="#1a1a1a">population_150m</text>
<rect x="298.20" y="763.49" width="9.50" height="8.12" fill="#4c98ff"/>
<text transform="translate(249.02 769.55) scale(1.0255 1)" x="-0.03 2.64 5.75 10.50 15.13 18.25 20.13 22.81 24.06 27.15 28.13 30.90 34.00 37.10 40.27" font-size="5.500" fill="#1a1a1a">commercial_200m</text>
<rect x="298.20" y="775.09" width="8.90" height="8.12" fill="#4c98ff"/>
<text transform="translate(292.14 781.15) scale(1.0760 1)" x="0.00" font-size="5.500" fill="#1a1a1a">x</text>
<rect x="298.20" y="786.69" width="7.70" height="8.12" fill="#4c98ff"/>
<text transform="translate(248.24 792.75) scale(1.0218 1)" x="-0.29 3.47 4.78 7.93 9.25 12.35 15.45 16.96 20.00 23.10 24.54 27.26 28.57 31.63 34.68 38.64 41.73 43.07" font-size="5.500" fill="#1a1a1a">Riding on sidewalk</text>
<rect x="298.20" y="798.29" width="7.70" height="8.12" fill="#4c98ff"/>
<text transform="translate(236.24 804.35) scale(1.0408 1)" x="-0.21 3.01 4.15 7.19 9.94 13.00 14.34 15.61 18.66 21.71 23.18 26.18 29.17 32.23 33.50 36.43 39.23 40.94 42.64 44.42 46.27 49.35 51.04 52.64 53.86" font-size="5.500" fill="#1a1a1a">Traveling against traffic</text>
<rect x="298.20" y="809.89" width="7.00" height="8.12" fill="#4c98ff"/>
<text transform="translate(268.74 815.95) scale(1.0144 1)" x="0.03 3.12 6.26 8.26 9.54 12.61 15.40 18.15 21.30" font-size="5.500" fill="#1a1a1a">period_am</text>
<rect x="298.20" y="821.49" width="6.70" height="8.12" fill="#4c98ff"/>
<text transform="translate(251.58 827.55) scale(1.0313 1)" x="0.01 3.03 6.05 9.13 12.26 13.50 16.70 18.48 19.71 22.73 25.48 28.24 31.32 34.41 37.55" font-size="5.500" fill="#1a1a1a">population_100m</text>
<rect x="298.20" y="833.09" width="4.40" height="8.12" fill="#4c98ff"/>
<text transform="translate(268.69 839.15) scale(1.0043 1)" x="-0.33 3.00 5.94 9.05 12.03 14.92 16.77 18.79 20.08 23.19" font-size="5.500" fill="#1a1a1a">Pedestrian</text>
<line x1="298.20" y1="663.15" x2="298.20" y2="848.75" stroke="#333" stroke-width="0.35" opacity="0.6"/>
<line x1="298.20" y1="848.75" x2="448.14" y2="848.75" stroke="#666" stroke-width="0.8"/>
<line x1="298.20" y1="848.75" x2="298.20" y2="850.05" stroke="#333" stroke-width="0.35"/>
<text transform="translate(293.49 855.10) scale(1.0692 1)" x="-0.00 2.52 3.78 6.29" font-size="4.527" fill="#1a1a1a">0.00</text>
<line x1="321.42" y1="848.75" x2="321.42" y2="850.05" stroke="#333" stroke-width="0.35"/>
<text transform="translate(316.71 855.10) scale(1.0692 1)" x="-0.00 2.52 3.78 6.29" font-size="4.527" fill="#1a1a1a">0.02</text>
<line x1="344.64" y1="848.75" x2="344.64" y2="850.05" stroke="#333" stroke-width="0.35"/>
<text transform="translate(339.93 855.10) scale(1.0692 1)" x="-0.00 2.52 3.78 6.29" font-size="4.527" fill="#1a1a1a">0.04</text>
<line x1="367.86" y1="848.75" x2="367.86" y2="850.05" stroke="#333" stroke-width="0.35"/>
<text transform="translate(363.15 855.10) scale(1.0692 1)" x="-0.00 2.52 3.78 6.29" font-size="4.527" fill="#1a1a1a">0.06</text>
<line x1="391.08" y1="848.75" x2="391.08" y2="850.05" stroke="#333" stroke-width="0.35"/>
<text transform="translate(386.37 855.10) scale(1.0692 1)" x="-0.00 2.52 3.78 6.29" font-size="4.527" fill="#1a1a1a">0.08</text>
<line x1="414.30" y1="848.75" x2="414.30" y2="850.05" stroke="#333" stroke-width="0.35"/>
<text transform="translate(409.59 855.10) scale(1.0692 1)" x="-0.00 2.52 3.78 6.29" font-size="4.527" fill="#1a1a1a">0.10</text>
<line x1="437.52" y1="848.75" x2="437.52" y2="850.05" stroke="#333" stroke-width="0.35"/>
<text transform="translate(432.81 855.10) scale(1.0692 1)" x="-0.00 2.52 3.78 6.29" font-size="4.527" fill="#1a1a1a">0.12</text>
<text transform="translate(304.16 661.15) scale(1.0229 1)" x="-0.26 2.73 6.11 9.01 12.08 13.25 16.07 18.59 21.57 23.18 26.10 27.85 30.56 31.94 33.40 37.73 40.54 43.42 45.37 46.93 49.74 52.55 55.04 57.85 59.24 60.91 62.19 65.68 68.65 70.25 71.69 75.34 78.11 80.99 82.82 84.03 86.90 89.75 91.14 93.95 95.39 98.21 101.07 102.35 106.63 109.61 111.21 112.67 114.13 117.59 119.75 123.15 126.00 127.45 130.32 133.20" font-size="5.077" fill="#000">SHAP Feature Importance - Not wearing a helmet (R²=0.62)</text>
<text transform="translate(289.91 860.90) scale(1.0354 1)" x="0.06 4.66 7.62 10.63 13.72 15.68 16.90 20.10 23.72 26.83 30.12 31.71 34.46 37.53 38.81 41.83 44.94 46.49 48.36 49.91 51.72 54.78 57.54 60.64 62.49 65.51 68.52 71.54 73.13 74.48 79.12 82.14 85.10 87.98 89.70 91.18 94.18 97.25 98.84 103.43 106.44 109.46 112.53 113.82 115.30 118.30 121.55 123.26 126.32 129.56 131.28 132.87 137.46 140.48 143.54 146.66 148.12 149.83 152.90 155.92 158.96" font-size="5.500" fill="#1a1a1a">mean(|SHAP value|) (average impact on model output magnitude)</text>
</g>
<clipPath id="c11"><rect x="457" y="0" width="227.60000000000002" height="863"/></clipPath>
<g clip-path="url(#c11)">
<rect x="524.10" y="670.69" width="148.60" height="8.12" fill="#4c98ff"/>
<text transform="translate(466.85 676.75) scale(1.0419 1)" x="-0.19 3.53 6.70 8.41 9.91 13.80 16.75 19.82 21.78 23.05 26.09 29.14 30.61 33.61 35.13 38.12 41.18 42.51 47.08 50.27" font-size="5.500" fill="#1a1a1a">Not wearing a helmet</text>
<rect x="524.10" y="682.29" width="123.40" height="8.12" fill="#4c98ff"/>
<text transform="translate(518.04 688.35) scale(1.0760 1)" x="0.00" font-size="5.500" fill="#1a1a1a">x</text>
<rect x="524.10" y="693.89" width="55.10" height="8.12" fill="#4c98ff"/>
<text transform="translate(481.52 699.95) scale(1.0087 1)" x="-0.08 2.58 5.62 8.59 11.24 14.33 17.14 19.89 22.98 26.29 28.07 31.29 36.04" font-size="5.500" fill="#1a1a1a">season_autumn</text>
<rect x="524.10" y="705.49" width="43.70" height="8.12" fill="#4c98ff"/>
<text transform="translate(494.64 711.55) scale(1.0144 1)" x="0.03 3.12 6.26 8.26 9.54 12.61 15.40 18.15 21.30" font-size="5.500" fill="#1a1a1a">period_am</text>
<rect x="524.10" y="717.09" width="25.90" height="8.12" fill="#4c98ff"/>
<text transform="translate(480.14 723.15) scale(1.0358 1)" x="0.00 3.06 6.18 7.52 8.81 11.93 13.21 16.27 19.01 21.75 24.77 27.78 30.72 33.41 34.88 36.64" font-size="5.500" fill="#1a1a1a">building_density</text>
<rect x="524.10" y="728.69" width="23.30" height="8.12" fill="#4c98ff"/>
<text transform="translate(507.48 734.75) scale(0.9824 1)" x="-0.23 3.30 6.54 7.96 10.84" font-size="5.500" fill="#1a1a1a">Ebike</text>
<rect x="524.10" y="740.29" width="22.40" height="8.12" fill="#4c98ff"/>
<text transform="translate(496.46 746.35) scale(1.0157 1)" x="0.03 3.10 6.21 7.21 10.00 13.13 16.27 19.47" font-size="5.500" fill="#1a1a1a">poi_100m</text>
<rect x="524.10" y="751.89" width="18.80" height="8.12" fill="#4c98ff"/>
<text transform="translate(469.54 757.95) scale(1.0141 1)" x="-0.26 3.42 6.56 8.59 10.52 13.42 14.75 17.88 20.99 22.58 25.65 28.60 31.17 33.82 36.90 40.02 43.10 46.25 48.09" font-size="5.500" fill="#1a1a1a">Carrying passengers</text>
<rect x="524.10" y="763.49" width="17.80" height="8.12" fill="#4c98ff"/>
<text transform="translate(518.04 769.55) scale(1.0760 1)" x="0.00" font-size="5.500" fill="#1a1a1a">y</text>
<rect x="524.10" y="775.09" width="9.40" height="8.12" fill="#4c98ff"/>
<text transform="translate(494.53 781.15) scale(1.0186 1)" x="0.03 3.10 6.23 8.22 9.49 12.55 15.33 18.12 21.31" font-size="5.500" fill="#1a1a1a">period_pm</text>
<rect x="524.10" y="786.69" width="9.00" height="8.12" fill="#4c98ff"/>
<text transform="translate(474.92 792.75) scale(1.0255 1)" x="-0.03 2.64 5.75 10.50 15.13 18.25 20.13 22.81 24.06 27.15 28.13 30.90 34.00 37.10 40.27" font-size="5.500" fill="#1a1a1a">commercial_100m</text>
<rect x="524.10" y="798.29" width="8.90" height="8.12" fill="#4c98ff"/>
<text transform="translate(493.48 804.35) scale(1.0230 1)" x="0.09 1.98 4.86 7.91 10.68 13.45 17.50 18.81 22.09 23.83" font-size="5.500" fill="#1a1a1a">road_width</text>
<rect x="524.10" y="809.89" width="7.70" height="8.12" fill="#4c98ff"/>
<text transform="translate(472.48 815.95) scale(0.9980 1)" x="0.06 3.29 5.25 8.22 11.35 14.19 16.90 19.65 22.77 25.84 28.60 31.39 34.24 37.43 40.62 43.89" font-size="5.500" fill="#1a1a1a">green_space_100m</text>
<rect x="524.10" y="821.49" width="7.70" height="8.12" fill="#4c98ff"/>
<text transform="translate(497.21 827.55) scale(1.0240 1)" x="0.10 1.69 4.80 6.41 9.18 12.29 15.40 18.57" font-size="5.500" fill="#1a1a1a">far_150m</text>
<rect x="524.10" y="833.09" width="7.70" height="8.12" fill="#4c98ff"/>
<text transform="translate(474.92 839.15) scale(1.0255 1)" x="-0.03 2.64 5.75 10.50 15.13 18.25 20.13 22.81 24.06 27.15 28.13 30.90 34.00 37.10 40.27" font-size="5.500" fill="#1a1a1a">commercial_150m</text>
<line x1="524.10" y1="663.15" x2="524.10" y2="848.75" stroke="#333" stroke-width="0.35" opacity="0.6"/>
<line x1="524.10" y1="848.75" x2="680.13" y2="848.75" stroke="#666" stroke-width="0.8"/>
<line x1="524.10" y1="848.75" x2="524.10" y2="850.05" stroke="#333" stroke-width="0.35"/>
<text transform="translate(516.70 855.10) scale(1.0692 1)" x="-0.00 2.52 3.78 6.29 8.81 11.33" font-size="4.527" fill="#1a1a1a">0.0000</text>
<line x1="548.17" y1="848.75" x2="548.17" y2="850.05" stroke="#333" stroke-width="0.35"/>
<text transform="translate(540.76 855.10) scale(1.0692 1)" x="-0.00 2.52 3.78 6.29 8.81 11.33" font-size="4.527" fill="#1a1a1a">0.0002</text>
<line x1="572.23" y1="848.75" x2="572.23" y2="850.05" stroke="#333" stroke-width="0.35"/>
<text transform="translate(564.83 855.10) scale(1.0692 1)" x="-0.00 2.52 3.78 6.29 8.81 11.33" font-size="4.527" fill="#1a1a1a">0.0004</text>
<line x1="596.30" y1="848.75" x2="596.30" y2="850.05" stroke="#333" stroke-width="0.35"/>
<text transform="translate(588.90 855.10) scale(1.0692 1)" x="-0.00 2.52 3.78 6.29 8.81 11.33" font-size="4.527" fill="#1a1a1a">0.0006</text>
<line x1="620.36" y1="848.75" x2="620.36" y2="850.05" stroke="#333" stroke-width="0.35"/>
<text transform="translate(612.96 855.10) scale(1.0692 1)" x="-0.00 2.52 3.78 6.29 8.81 11.33" font-size="4.527" fill="#1a1a1a">0.0008</text>
<line x1="644.43" y1="848.75" x2="644.43" y2="850.05" stroke="#333" stroke-width="0.35"/>
<text transform="translate(637.03 855.10) scale(1.0692 1)" x="-0.00 2.52 3.78 6.29 8.81 11.33" font-size="4.527" fill="#1a1a1a">0.0010</text>
<line x1="668.50" y1="848.75" x2="668.50" y2="850.05" stroke="#333" stroke-width="0.35"/>
<text transform="translate(661.09 855.10) scale(1.0692 1)" x="-0.00 2.52 3.78 6.29 8.81 11.33" font-size="4.527" fill="#1a1a1a">0.0012</text>
<text transform="translate(522.50 661.15) scale(1.0300 1)" x="-0.27 2.70 6.05 8.94 11.99 13.14 15.95 18.46 21.41 23.01 25.91 27.65 30.34 31.72 33.15 37.46 40.25 43.11 45.05 46.59 49.39 52.18 54.65 57.45 58.83 60.49 61.64 64.44 66.88 68.12 69.36 70.56 73.40 76.24 77.83 79.38 82.17 83.48 86.09 87.63 90.43 93.27 94.64 97.60 99.19 100.69 102.42 105.12 107.96 109.55 111.21 112.94 115.81 117.39 118.87 120.02 122.53 124.00 125.25 126.45 129.29 132.29 133.88 135.33 136.77 140.21 142.35 145.73 148.57 150.00 152.87" font-size="5.077" fill="#000">SHAP Feature Importance - Failing to stop at red traffic light (R²=0.1)</text>
<text transform="translate(518.86 860.90) scale(1.0354 1)" x="0.06 4.66 7.62 10.63 13.72 15.68 16.90 20.10 23.72 26.83 30.12 31.71 34.46 37.53 38.81 41.83 44.94 46.49 48.36 49.91 51.72 54.78 57.54 60.64 62.49 65.51 68.52 71.54 73.13 74.48 79.12 82.14 85.10 87.98 89.70 91.18 94.18 97.25 98.84 103.43 106.44 109.46 112.53 113.82 115.30 118.30 121.55 123.26 126.32 129.56 131.28 132.87 137.46 140.48 143.54 146.66 148.12 149.83 152.90 155.92 158.96" font-size="5.500" fill="#1a1a1a">mean(|SHAP value|) (average impact on model output magnitude)</text>
</g>
</svg></body></html>
